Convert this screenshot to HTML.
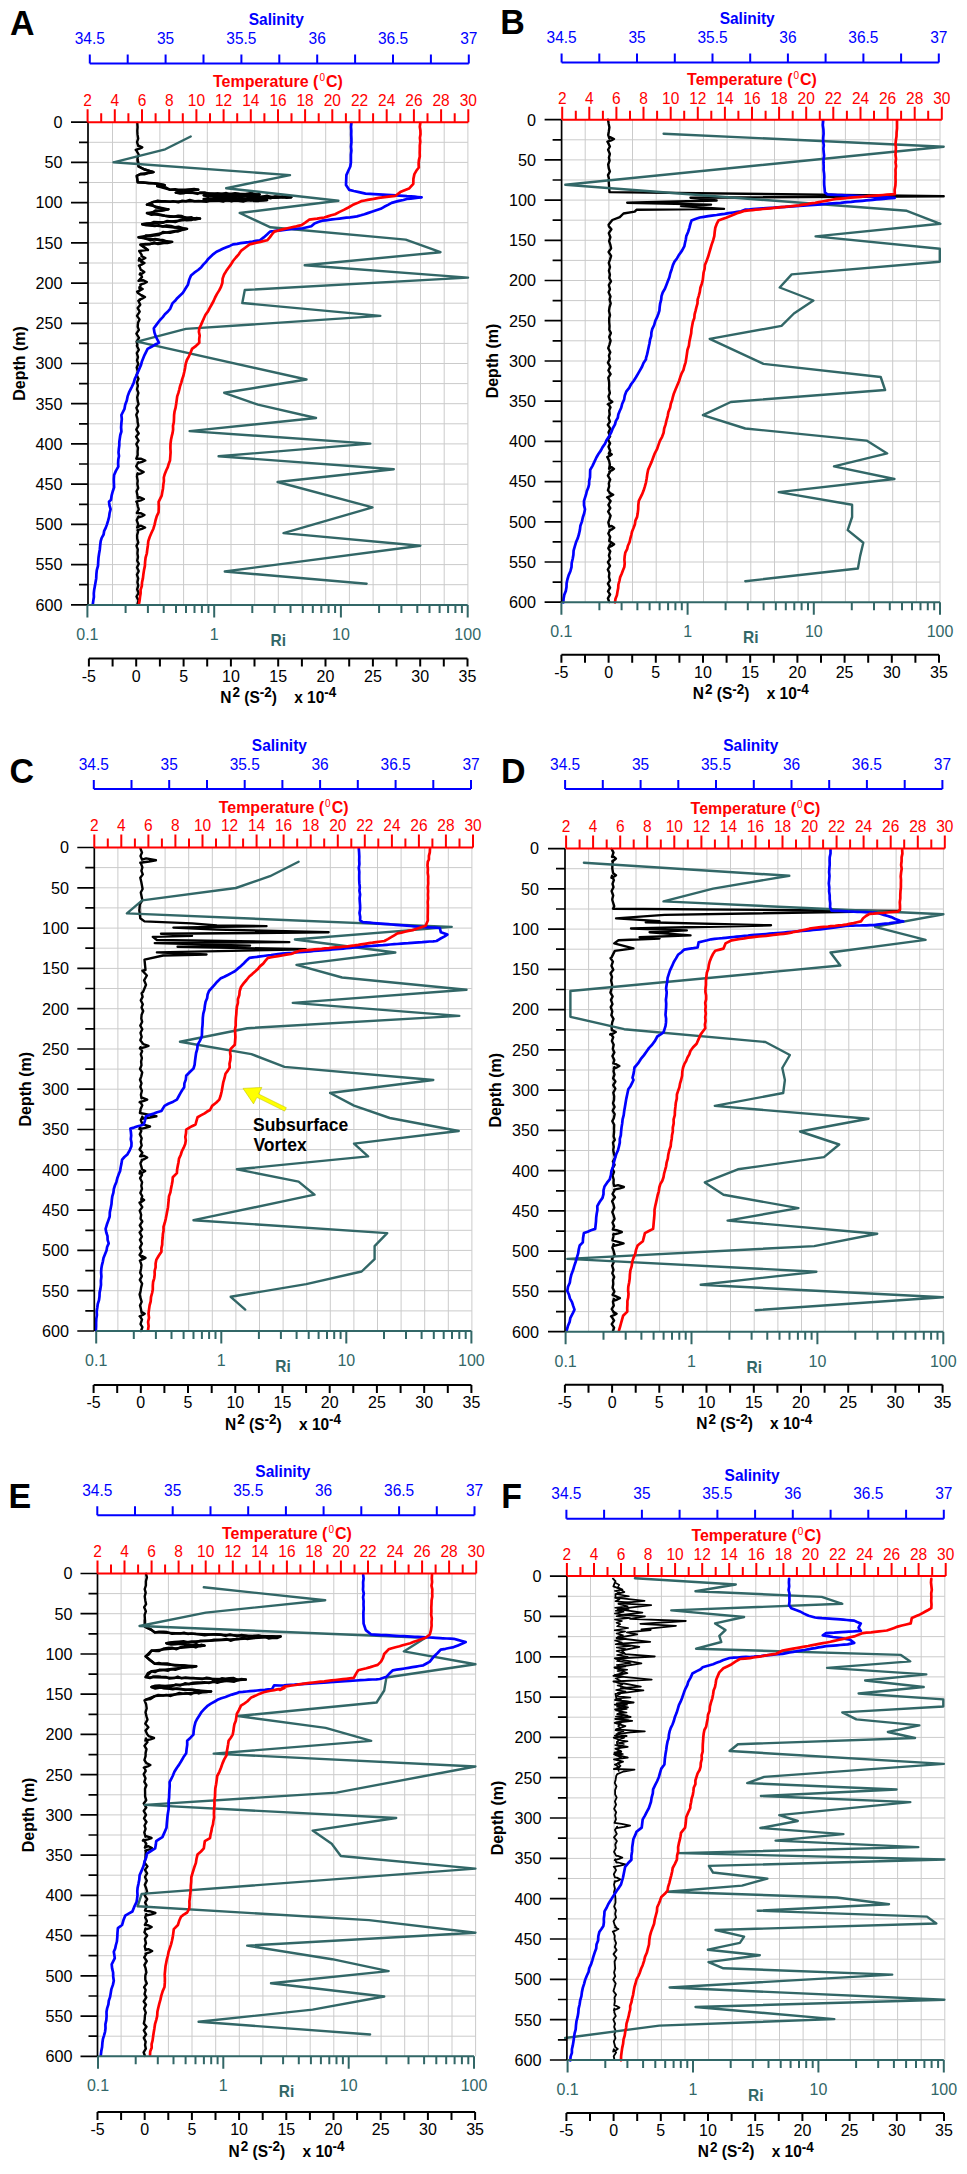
<!DOCTYPE html>
<html><head><meta charset="utf-8"><style>
html,body{margin:0;padding:0;background:#fff;overflow:hidden;}
svg{display:block;font-family:"Liberation Sans", sans-serif;}
</style></head><body>
<svg width="967" height="2174" viewBox="0 0 967 2174">
<rect width="967" height="2174" fill="#fff"/>
<path d="M112.5 122.2V604.8M136.2 122.2V604.8M159.9 122.2V604.8M183.6 122.2V604.8M207.3 122.2V604.8M231 122.2V604.8M254.7 122.2V604.8M278.3 122.2V604.8M302 122.2V604.8M325.7 122.2V604.8M349.4 122.2V604.8M373.1 122.2V604.8M396.8 122.2V604.8M420.5 122.2V604.8M444.2 122.2V604.8M467.9 122.2V604.8M88.8 142.3H467.9M88.8 162.4H467.9M88.8 182.5H467.9M88.8 202.6H467.9M88.8 222.7H467.9M88.8 242.8H467.9M88.8 263H467.9M88.8 283.1H467.9M88.8 303.2H467.9M88.8 323.3H467.9M88.8 343.4H467.9M88.8 363.5H467.9M88.8 383.6H467.9M88.8 403.7H467.9M88.8 423.8H467.9M88.8 443.9H467.9M88.8 464H467.9M88.8 484.1H467.9M88.8 504.3H467.9M88.8 524.4H467.9M88.8 544.5H467.9M88.8 564.6H467.9M88.8 584.7H467.9" stroke="#cbcbcb" stroke-width="1" fill="none"/>
<polyline points="137.3,123 137.6,127.2 137.3,130.8 137.5,134.4 138.2,138.7 137,142.1 138.3,146 138.4,145.5 142.3,147.3 139.6,148.6 135.7,149.9 136.3,150.4 138.7,154.5 137.5,158 137.7,160 138.6,166.5 144.2,169.3 153.5,172.1 140.5,174 136.8,175.8 137.7,182.3 153.5,183.3 164.7,185.1 157.2,186.1 170.3,189.8 198.2,189.8 175.8,192.6 259.6,194.4 203.8,195.4 291.3,197.2 203.8,199.1 267.1,200 153.5,201.9 147,204.7 168.4,209.3 147,213.1 164.7,215.8 200,218.6 142.3,224.2 187,228.9 138.6,237.3 172.1,241.9 140.5,244.7 147.9,249.9 139.2,251 141.7,254.9 141.5,256.2 145.4,258 142.7,259.3 138.8,260.6 139.4,258.1 141.5,262.1 141.3,261.2 144.5,263 142.3,264.3 138.9,265.6 139.5,266.2 140.8,269.9 141.7,270.2 144.3,272 142.5,273.3 139.7,274.6 140.3,273.3 142,277.1 138.5,280.8 143,280.2 146.9,282 144.2,283.3 140.3,284.6 140.9,284.6 139.5,288.6 139.4,287.2 142.7,289 140.4,290.3 137.1,291.6 137.7,292.7 142,295.9 141.8,295.2 145,297 142.8,298.3 139.4,299.6 140,300 138.3,300.8 140.3,304.8 137.7,308.1 139.7,311.7 137,315.9 139.5,319.4 138,322.8 137.7,326.9 138.9,329.9 136.4,333.7 139,337.9 136.6,341.6 137.5,345 136.9,345.7 138.8,349.8 136.8,353.1 138,357.1 137,360.4 138.3,364.1 136.7,367.5 137.9,371.8 136.6,374.9 138.5,378.8 137,382.4 137.9,385.7 137,389.3 138.4,392.9 137.2,397.3 137.7,400.9 138.6,404.2 136.4,407.9 137.9,411.5 136.3,414.8 137.5,419 137.6,422.1 138.4,425.7 136.3,429.6 138.7,433.5 136.1,436.7 138.6,440.7 136.3,444.1 138,447.7 137.6,451.4 137.7,455 136.3,458.7 140.7,458.7 145.3,460.5 142.1,461.8 137.7,463.1 138.3,462.3 136.2,466.2 138.5,469.2 139.8,470.2 143.7,472 141,473.3 137.1,474.6 137.7,473.3 136.9,476.4 137.7,480.8 137.3,484 138.2,488.1 136.6,491.2 137.4,495.1 137.8,498.4 139.4,497.2 143.9,499 140.8,500.3 136.3,501.6 136.9,501.9 137.8,506.3 138.8,509.3 136.8,513 140.6,513.2 144.5,515 141.8,516.3 137.9,517.6 138.5,516.4 136.7,520.2 138.2,524.4 137.2,527.5 140.6,525.7 145.1,527.5 142,528.8 137.5,530.1 138.1,531.7 137.1,535.2 137.2,538.6 138.3,542.6 136.5,545.9 137.8,549.4 137.4,553.5 138,557 137.2,560.7 138.8,563.8 137,567.6 138.7,571.1 136.9,574.7 138.2,578.3 137.4,582.2 138.3,585.7 137.1,589.3 138.6,593 136.5,596.5 138.5,600.5 137.5,604" fill="none" stroke="#000" stroke-width="2.4" stroke-linejoin="round" stroke-linecap="round"/>
<polyline points="137.7,160 138.6,166.5 144.2,169.3 148.8,170.7 153.5,172.1 149,172.9 144.3,174.2 140.5,174 136.8,175.8 137.7,182.3 143.4,182.5 148.9,183.2 153.5,183.3 158.9,183.7 164.7,185.1 157.2,186.1 161,186.8 166,187.5 170.3,189.8 175.1,189.3 180.4,191 184,190.5 189.5,189.5 194.1,189.1 198.2,189.8 193.6,189.7 190,191.1 185.3,192.1 180,191.7 175.8,192.6 180.1,193.6 183.5,193.3 188.3,191.7 192.2,192.5 197.4,193.9 200.3,192.4 204.6,192.4 209.1,193.9 212.7,194.6 217.1,193.6 221.7,194.5 226.2,193 229.5,194.7 235.1,193.2 238,193.7 243.6,195.1 246.5,193.9 251.6,193 255.8,195 259.6,194.4 255.1,195 251.1,194 246.7,195.4 242.3,194.7 238.9,195.6 234.6,194.3 229.4,195.7 225.6,194.4 221.1,195.2 217.4,196.4 212.4,195.8 207.4,194.5 203.8,195.4 207.6,196.3 211.8,196 216.6,194.9 219.8,194.9 224.5,197.1 229.3,195.6 233.4,195.3 237.5,195.4 240.7,196.8 246,196 249.5,196.3 253.2,195.3 258.7,197.7 262.4,196.7 267,195.7 270.8,197.1 274.2,197.8 278.8,197.4 282.4,196.5 286.6,197.7 291.3,197.2 286.9,196.4 282.9,197.2 279.6,196.8 275.1,196.5 270.4,198.3 266.8,197.2 261.7,198.5 258.2,198.9 254.5,197.2 249.1,197.8 245.9,199.4 241.4,198.2 237.1,198.4 233.2,197.4 228.3,198.2 224.5,198.3 220.1,197.6 215.7,198.3 211.4,198.7 207.7,199 203.8,199.1 208.3,198.6 211.6,199.6 216.7,198.3 220.1,199 224.5,198.8 228.4,198.8 233.9,199.1 236.8,198.3 241.9,198.8 246.3,199.3 250.5,200.4 255,199.8 258.1,201.1 263.5,199.7 267.1,200 262.9,200.4 258.6,200.7 254.3,201.1 251.3,199.3 247.3,200.1 243.2,201.5 238.3,200.8 234.2,200.6 231.4,201.4 226.6,199.5 223.2,201.6 218.3,200.5 213.6,200.4 211.1,200.2 207,201.7 201.4,201.3 198.7,201 194.6,201.3 189.7,200 185.9,201.2 182.3,200.8 178.4,202.2 173.1,201.3 170.3,201.7 165,201.2 161.2,201.3 157.8,200.6 153.5,201.9 147,204.7 151.8,204.4 156,207.6 160.2,208.1 164.2,209.2 168.4,209.3 163.4,210.3 160.6,210.7 155.4,210.4 151.3,213.4 147,213.1 151.5,214.8 156.6,214.1 160.8,214.8 164.7,215.8 169.9,216.7 173.9,216.7 178.2,215.7 181.9,216 186.4,218.2 191.4,217.3 194.9,219.5 200,218.6 196.1,218.1 191.3,220 186.9,220.2 183,219.3 179.6,220.3 175.3,222.1 171.2,221.4 167.3,220.9 163.1,222.7 159.2,222.3 154,221.9 150.4,223.3 147.2,223.4 142.3,224.2 146.3,225.3 150.1,225.4 154.9,226 158.7,225.3 162.8,226.5 166.5,225.5 170.9,226 174.9,227.3 178.5,226.8 183.1,228.2 187,228.9 182.6,229.8 178.2,231.4 175.4,231.5 170.1,232.7 166.5,232.4 162.9,232 158.8,234.9 154,235.6 150.5,236 145.9,235.4 143.1,237.9 138.6,237.3 142.7,237.9 147.8,239.4 150.5,240.2 155.1,239 159.7,239.7 163,240.1 167.4,242 172.1,241.9 167.5,243.1 163.8,242.9 158,244 154.1,242.5 150.1,244.2 145.6,243.9 140.5,244.7 144.6,247.5 147.9,249.9" fill="none" stroke="#000" stroke-width="2.5" stroke-linejoin="round" stroke-linecap="round"/>
<polyline points="190.7,136.5 165.2,149.3 113.5,162.3 290,175.1 226.2,188.2 338.4,200.8 239.7,213 270.5,227.3 405.7,239.6 440.5,252.2 304.7,265.3 468,277.6 244.8,290 242.3,303 380.3,315.9 185.8,328.9 137.2,341.7 306.5,379.5 224.2,392.8 257.9,404.6 316,418 189.6,431.1 370.3,443.6 218.6,456.3 393.8,469.2 277.6,482 372.5,507.4 283.5,533.1 420.3,545.7 224.8,571.5 366.6,583.7" fill="none" stroke="#326767" stroke-width="2.4" stroke-linejoin="round" stroke-linecap="round"/>
<polyline points="351.4,123 351,126.9 351.3,130.8 351.2,134.8 351.4,138.7 351.4,142.6 351,146.6 351.4,150.6 350.9,154.6 350.9,158.5 350.9,162.5 350.3,166.5 348.3,170.8 346.4,175.1 346.2,180 346,184.9 349.3,189.9 353.8,191 359,192.1 365.5,193.6 370.1,193.9 373.8,194.1 378.4,194.4 382.9,194.7 386.9,194.9 391.8,195.1 395.9,195.3 399.5,195.6 403.2,195.9 406.9,196.2 410.9,196.4 414.7,196.7 417.8,197 421.6,197.3 418.2,197.7 414.4,198.2 410.7,198.6 406.8,199 403.4,200 398.9,200.9 395.2,201.9 391.6,202.9 388,204.9 384.2,206.8 380.7,208.8 376.2,210.2 371.8,211.7 367.7,213.1 364.5,214.2 360.9,215.3 356.9,216.4 353.8,216.8 350.2,217.3 346.4,217.7 342.8,218.2 339.5,218.6 335.9,219 332.1,219.4 328.7,219.9 325.6,220.3 322.1,220.7 318.2,222.1 314.5,223.4 311.3,226.2 307.1,227.2 302.6,228.3 299,228.5 295,228.8 291.7,229 288.4,229.4 284.4,229.9 280.8,230.3 277.1,230.7 273.5,231.2 270,231.6 267,234.5 263.7,237.4 259.9,240.3 255.8,240.9 252.6,241.5 248.7,242.1 244.8,242.6 240.5,243.2 237.2,243.8 233,244.4 229.8,245.9 226.4,247.3 222.7,248.8 219.8,250.2 216.5,251.7 213.4,254.1 210.8,256.5 208.2,258.9 206.2,261.7 203.5,264.4 201.3,267.2 198.1,270 194.3,272.7 191,275.5 189.1,280.1 187.9,284.8 185.2,289 182.7,293.1 179.8,295.7 177.2,298.2 175.1,300.8 172.4,303.4 170.3,308.6 167.9,311.5 164.9,314.3 162.8,317.1 160,320 156.9,324.1 153.8,328.3 154.4,332.4 155.8,336.5 158.9,342.7 154.8,344.8 151.5,346.8 147.6,348.9 144.5,355.1 142,361.2 141.1,364.6 139.7,367.9 138.3,371.2 136.9,374.6 134.8,378.8 133.7,382.9 131.7,387.1 129.3,391.8 127.6,396.4 126.8,400.5 125.2,404.7 124.5,408.8 121.4,415 121.8,419.1 121.4,423.2 121.1,427.4 121.4,431.5 120.3,435 119.8,438.4 119.3,441.9 119.3,445.4 118.8,449 118.5,452.5 119,456.1 118.3,459.6 118.1,463.2 118.3,466.7 115.9,470.9 114.1,475 113.8,479.1 113.9,483.3 114.1,487.4 112.7,491.5 111.6,495.7 111,499.8 109,501.8 109.5,505.5 110.6,509.1 109.6,513 109.1,516.9 108.1,520.7 106.9,524.6 105.7,527.9 104.1,531.2 103.6,534.5 101.7,537.8 100.7,541.1 100.2,545.2 99.8,549.4 99.1,553.5 98.5,557.7 98.2,561.8 98,565.9 96.8,570.1 96.4,574.2 96.2,578.4 95.5,582.5 94.9,586.1 94.2,589.7 93.8,593.4 93.9,597 93.3,600.6 92.8,604.2" fill="none" stroke="#0000ff" stroke-width="2.7" stroke-linejoin="round" stroke-linecap="round"/>
<polyline points="420.3,123 419.8,126.7 420.4,130.5 420.5,134.2 419.9,137.9 420.3,141.6 419.8,145.4 419.8,149.1 419.7,152.8 419.8,156.5 418.9,160.1 418.6,163.8 418.8,167.5 416.3,170.8 414.4,174.1 413.4,178.9 413.3,183.8 409,188.6 404.6,190.3 400.3,192.1 395.5,195.8 390.9,196.3 386.7,196.9 382.7,197.4 378.6,197.9 375,198.6 372,199.2 367.7,199.9 364.8,200.5 361.2,201.2 357.2,203.1 352.5,205.1 348.4,207.5 343.8,209.9 339.1,212.1 335.1,214.2 331.2,215.3 327.8,216.4 324.3,217.5 320.1,218.1 317.1,218.6 313.1,219.1 309.1,219.7 305.6,222.4 301.5,225.1 298.1,225.9 294.9,226.7 290.8,227.5 287.4,228.3 282.6,229.4 278.5,230.5 274.3,231.6 271.9,234.5 269.8,237.4 267.2,240.3 263.2,241.1 260.5,241.9 256.5,242.8 252.7,243.6 249.6,244.4 245.5,247.5 241.3,250.6 238.9,254.1 235.9,257.5 233,261 231,264.4 228.5,267.8 226.2,271.1 224.1,274.5 222.6,278.6 222.4,282.8 221,286.9 219.2,290.4 217,293.9 215.1,297.5 213.6,301 211.7,304.5 209.8,307.9 208,311.4 205.5,314.8 203.9,318.2 202.4,321.6 201,324.9 199.3,328.3 198.9,331.9 199.7,335.5 199.2,339.1 199.3,342.7 196.1,345.8 192,348.9 190.6,352.6 188.9,356.3 186.9,360 185.7,363.9 185.1,367.9 184.3,371.8 183.4,375.7 182.2,379.1 181.3,382.6 180.1,386 179.3,389.5 178.4,392.9 177.2,396.4 176.7,400.1 176.2,403.8 175.6,407.6 174.6,411.3 174.1,415 174,418.6 173.8,422.2 173,425.9 173.1,429.5 172.6,432.9 171.7,436.4 171,439.8 170.5,443.9 170.4,448.1 170.6,452.2 170.3,456.4 170,460.5 168.7,463.9 167.8,467.2 166.2,470.5 164.8,473.9 163.8,477.5 163.9,481.1 163.3,484.8 163,488.4 162.3,492 161.7,495.6 158.6,501.8 158.8,507 158.6,512.2 156.7,516.4 155.5,520.5 154.6,524.6 153.4,528.7 151.5,532.8 149.7,537 148.3,541.1 147.9,545.2 147.3,549.4 146.8,553.5 145.6,557.7 145.1,561.8 144.9,565.9 144,570.1 143.4,574.2 142.9,578.4 142,582.5 141.8,586.1 140.6,589.7 140.6,593.4 140,597 139.6,600.6 138.9,604.2" fill="none" stroke="#ff0000" stroke-width="2.7" stroke-linejoin="round" stroke-linecap="round"/>
<path d="M88 122.2V604.8M71 122.2H88M79 142.3H88M71 162.4H88M79 182.5H88M71 202.6H88M79 222.7H88M71 242.8H88M79 263H88M71 283.1H88M79 303.2H88M71 323.3H88M79 343.4H88M71 363.5H88M79 383.6H88M71 403.7H88M79 423.8H88M71 443.9H88M79 464H88M71 484.1H88M79 504.3H88M71 524.4H88M79 544.5H88M71 564.6H88M79 584.7H88M71 604.8H88" stroke="#000" stroke-width="1.7" fill="none"/>
<text transform="translate(62.5 128) scale(1 1.05)" font-size="16.2" fill="#000" text-anchor="end" font-weight="normal" >0</text>
<text transform="translate(62.5 168.2) scale(1 1.05)" font-size="16.2" fill="#000" text-anchor="end" font-weight="normal" >50</text>
<text transform="translate(62.5 208.4) scale(1 1.05)" font-size="16.2" fill="#000" text-anchor="end" font-weight="normal" >100</text>
<text transform="translate(62.5 248.7) scale(1 1.05)" font-size="16.2" fill="#000" text-anchor="end" font-weight="normal" >150</text>
<text transform="translate(62.5 288.9) scale(1 1.05)" font-size="16.2" fill="#000" text-anchor="end" font-weight="normal" >200</text>
<text transform="translate(62.5 329.1) scale(1 1.05)" font-size="16.2" fill="#000" text-anchor="end" font-weight="normal" >250</text>
<text transform="translate(62.5 369.3) scale(1 1.05)" font-size="16.2" fill="#000" text-anchor="end" font-weight="normal" >300</text>
<text transform="translate(62.5 409.5) scale(1 1.05)" font-size="16.2" fill="#000" text-anchor="end" font-weight="normal" >350</text>
<text transform="translate(62.5 449.7) scale(1 1.05)" font-size="16.2" fill="#000" text-anchor="end" font-weight="normal" >400</text>
<text transform="translate(62.5 489.9) scale(1 1.05)" font-size="16.2" fill="#000" text-anchor="end" font-weight="normal" >450</text>
<text transform="translate(62.5 530.2) scale(1 1.05)" font-size="16.2" fill="#000" text-anchor="end" font-weight="normal" >500</text>
<text transform="translate(62.5 570.4) scale(1 1.05)" font-size="16.2" fill="#000" text-anchor="end" font-weight="normal" >550</text>
<text transform="translate(62.5 610.6) scale(1 1.05)" font-size="16.2" fill="#000" text-anchor="end" font-weight="normal" >600</text>
<text x="25.1" y="363.5" font-size="16" font-weight="bold" text-anchor="middle" transform="rotate(-90 25.1 363.5)">Depth (m)</text>
<path d="M89.8 63.5H468.8M89.8 63.5V54.5M127.7 63.5V54.5M165.6 63.5V54.5M203.5 63.5V54.5M241.4 63.5V54.5M279.3 63.5V54.5M317.2 63.5V54.5M355.1 63.5V54.5M393 63.5V54.5M430.9 63.5V54.5M468.8 63.5V54.5" stroke="#0000ff" stroke-width="2" fill="none"/>
<text transform="translate(89.8 44) scale(1 1.1)" font-size="15.5" fill="#0000ff" text-anchor="middle" font-weight="normal" >34.5</text>
<text transform="translate(165.6 44) scale(1 1.1)" font-size="15.5" fill="#0000ff" text-anchor="middle" font-weight="normal" >35</text>
<text transform="translate(241.4 44) scale(1 1.1)" font-size="15.5" fill="#0000ff" text-anchor="middle" font-weight="normal" >35.5</text>
<text transform="translate(317.2 44) scale(1 1.1)" font-size="15.5" fill="#0000ff" text-anchor="middle" font-weight="normal" >36</text>
<text transform="translate(393 44) scale(1 1.1)" font-size="15.5" fill="#0000ff" text-anchor="middle" font-weight="normal" >36.5</text>
<text transform="translate(468.8 44) scale(1 1.1)" font-size="15.5" fill="#0000ff" text-anchor="middle" font-weight="normal" >37</text>
<text transform="translate(276.3 25.3) scale(1 1.05)" font-size="15.5" fill="#0000ff" text-anchor="middle" font-weight="bold" >Salinity</text>
<path d="M87.6 122.2H468.3M87.6 122.2V109.2M101.2 122.2V113.2M114.8 122.2V109.2M128.4 122.2V113.2M142 122.2V109.2M155.6 122.2V113.2M169.2 122.2V109.2M182.8 122.2V113.2M196.4 122.2V109.2M210 122.2V113.2M223.6 122.2V109.2M237.2 122.2V113.2M250.8 122.2V109.2M264.4 122.2V113.2M278 122.2V109.2M291.5 122.2V113.2M305.1 122.2V109.2M318.7 122.2V113.2M332.3 122.2V109.2M345.9 122.2V113.2M359.5 122.2V109.2M373.1 122.2V113.2M386.7 122.2V109.2M400.3 122.2V113.2M413.9 122.2V109.2M427.5 122.2V113.2M441.1 122.2V109.2M454.7 122.2V113.2M468.3 122.2V109.2" stroke="#ff0000" stroke-width="2" fill="none"/>
<text transform="translate(87.6 106) scale(1 1.08)" font-size="15.5" fill="#ff0000" text-anchor="middle" font-weight="normal" >2</text>
<text transform="translate(114.8 106) scale(1 1.08)" font-size="15.5" fill="#ff0000" text-anchor="middle" font-weight="normal" >4</text>
<text transform="translate(142 106) scale(1 1.08)" font-size="15.5" fill="#ff0000" text-anchor="middle" font-weight="normal" >6</text>
<text transform="translate(169.2 106) scale(1 1.08)" font-size="15.5" fill="#ff0000" text-anchor="middle" font-weight="normal" >8</text>
<text transform="translate(196.4 106) scale(1 1.08)" font-size="15.5" fill="#ff0000" text-anchor="middle" font-weight="normal" >10</text>
<text transform="translate(223.6 106) scale(1 1.08)" font-size="15.5" fill="#ff0000" text-anchor="middle" font-weight="normal" >12</text>
<text transform="translate(250.8 106) scale(1 1.08)" font-size="15.5" fill="#ff0000" text-anchor="middle" font-weight="normal" >14</text>
<text transform="translate(278 106) scale(1 1.08)" font-size="15.5" fill="#ff0000" text-anchor="middle" font-weight="normal" >16</text>
<text transform="translate(305.1 106) scale(1 1.08)" font-size="15.5" fill="#ff0000" text-anchor="middle" font-weight="normal" >18</text>
<text transform="translate(332.3 106) scale(1 1.08)" font-size="15.5" fill="#ff0000" text-anchor="middle" font-weight="normal" >20</text>
<text transform="translate(359.5 106) scale(1 1.08)" font-size="15.5" fill="#ff0000" text-anchor="middle" font-weight="normal" >22</text>
<text transform="translate(386.7 106) scale(1 1.08)" font-size="15.5" fill="#ff0000" text-anchor="middle" font-weight="normal" >24</text>
<text transform="translate(413.9 106) scale(1 1.08)" font-size="15.5" fill="#ff0000" text-anchor="middle" font-weight="normal" >26</text>
<text transform="translate(441.1 106) scale(1 1.08)" font-size="15.5" fill="#ff0000" text-anchor="middle" font-weight="normal" >28</text>
<text transform="translate(468.3 106) scale(1 1.08)" font-size="15.5" fill="#ff0000" text-anchor="middle" font-weight="normal" >30</text>
<text transform="translate(277.9 87.2) scale(1 1.05)" font-size="16" fill="#ff0000" text-anchor="middle" font-weight="bold" >Temperature (<tspan font-weight="normal" font-size="10" dx="1" dy="-5.5">0</tspan><tspan dx="1" dy="5.5">C)</tspan></text>
<path d="M87.4 605H467.7M87.4 605V617.5M125.6 605V613M147.9 605V613M163.7 605V613M176 605V613M186 605V613M194.5 605V613M201.9 605V613M208.4 605V613M214.2 605V617.5M252.3 605V613M274.6 605V613M290.5 605V613M302.8 605V613M312.8 605V613M321.3 605V613M328.6 605V613M335.1 605V613M340.9 605V617.5M379.1 605V613M401.4 605V613M417.3 605V613M429.5 605V613M439.6 605V613M448.1 605V613M455.4 605V613M461.9 605V613M467.7 605V617.5" stroke="#326767" stroke-width="2" fill="none"/>
<text transform="translate(87.4 640) scale(1 1.05)" font-size="16" fill="#326767" text-anchor="middle" font-weight="normal" >0.1</text>
<text transform="translate(214.2 640) scale(1 1.05)" font-size="16" fill="#326767" text-anchor="middle" font-weight="normal" >1</text>
<text transform="translate(340.9 640) scale(1 1.05)" font-size="16" fill="#326767" text-anchor="middle" font-weight="normal" >10</text>
<text transform="translate(467.7 640) scale(1 1.05)" font-size="16" fill="#326767" text-anchor="middle" font-weight="normal" >100</text>
<text transform="translate(278.3 646) scale(1 1.05)" font-size="15.5" fill="#326767" text-anchor="middle" font-weight="bold" >Ri</text>
<path d="M88.9 658.5H467.5M88.9 658.5V666.5M112.6 658.5V666.5M136.2 658.5V666.5M159.9 658.5V666.5M183.6 658.5V666.5M207.2 658.5V666.5M230.9 658.5V666.5M254.5 658.5V666.5M278.2 658.5V666.5M301.9 658.5V666.5M325.5 658.5V666.5M349.2 658.5V666.5M372.9 658.5V666.5M396.5 658.5V666.5M420.2 658.5V666.5M443.8 658.5V666.5M467.5 658.5V666.5" stroke="#000" stroke-width="2" fill="none"/>
<text transform="translate(88.9 681.8) scale(1 1.05)" font-size="16" fill="#000" text-anchor="middle" font-weight="normal" >-5</text>
<text transform="translate(136.2 681.8) scale(1 1.05)" font-size="16" fill="#000" text-anchor="middle" font-weight="normal" >0</text>
<text transform="translate(183.6 681.8) scale(1 1.05)" font-size="16" fill="#000" text-anchor="middle" font-weight="normal" >5</text>
<text transform="translate(230.9 681.8) scale(1 1.05)" font-size="16" fill="#000" text-anchor="middle" font-weight="normal" >10</text>
<text transform="translate(278.2 681.8) scale(1 1.05)" font-size="16" fill="#000" text-anchor="middle" font-weight="normal" >15</text>
<text transform="translate(325.5 681.8) scale(1 1.05)" font-size="16" fill="#000" text-anchor="middle" font-weight="normal" >20</text>
<text transform="translate(372.9 681.8) scale(1 1.05)" font-size="16" fill="#000" text-anchor="middle" font-weight="normal" >25</text>
<text transform="translate(420.2 681.8) scale(1 1.05)" font-size="16" fill="#000" text-anchor="middle" font-weight="normal" >30</text>
<text transform="translate(467.5 681.8) scale(1 1.05)" font-size="16" fill="#000" text-anchor="middle" font-weight="normal" >35</text>
<text transform="translate(278.3 703) scale(1 1.05)" font-size="15.5" font-weight="bold" text-anchor="middle" xml:space="preserve">N<tspan dy="-5.5" dx="1" font-size="13.5">2</tspan><tspan dy="5.5"> (S</tspan><tspan dy="-5.5" font-size="13.5">-2</tspan><tspan dy="5.5">)    x 10</tspan><tspan dy="-5.5" font-size="13.5">-4</tspan></text>
<text transform="translate(9.9 34.7) scale(1 1.04)" font-size="34" fill="#000" text-anchor="start" font-weight="bold" >A</text>
<path d="M585.2 119.7V602.2M608.9 119.7V602.2M632.5 119.7V602.2M656.2 119.7V602.2M679.9 119.7V602.2M703.5 119.7V602.2M727.1 119.7V602.2M750.8 119.7V602.2M774.5 119.7V602.2M798.1 119.7V602.2M821.8 119.7V602.2M845.4 119.7V602.2M869 119.7V602.2M892.7 119.7V602.2M916.4 119.7V602.2M940 119.7V602.2M561.6 139.8H940M561.6 159.9H940M561.6 180H940M561.6 200.1H940M561.6 220.2H940M561.6 240.3H940M561.6 260.4H940M561.6 280.5H940M561.6 300.6H940M561.6 320.7H940M561.6 340.8H940M561.6 361H940M561.6 381.1H940M561.6 401.2H940M561.6 421.3H940M561.6 441.4H940M561.6 461.5H940M561.6 481.6H940M561.6 501.7H940M561.6 521.8H940M561.6 541.9H940M561.6 562H940M561.6 582.1H940" stroke="#cbcbcb" stroke-width="1" fill="none"/>
<polyline points="608,119.7 608.7,123.9 609.4,127.3 608.8,131.5 608.2,135 609.3,138.4 610.1,137.2 614,139 611.3,140.3 607.4,141.6 608,142.6 609.9,146.5 608.1,149.8 609.9,154 608.9,157.6 609.6,160.5 608.2,164.5 608.8,168.5 609.9,171.5 608,175.1 609,179 608.6,180 609.5,192.1 943.7,196.3 690.5,197.7 716.6,200.5 627.2,202.7 711,204.6 681.2,206.1 724,208.9 636.5,209.8 634.7,211.6 623.5,213.5 619.8,217.2 612.3,220 608.6,224.7 608.9,226.4 611.4,229.3 608.8,233.1 610.4,237.2 609.1,241.1 610.4,244.9 611.1,248.3 608.6,252 611.1,255.8 610,259.6 608.8,262.8 610,267 608.9,270.8 609.9,274.5 609.3,278 611,281.3 608.8,285 610,289.3 608.6,292.3 610.5,296.4 609.6,299.6 610.7,303.3 609.5,307.4 609,311 610,315.1 609.2,318.4 609.2,322.1 609.6,326 609.3,329.8 610.9,333 609.2,336.9 610.6,340.7 609.4,344.8 608.2,348.1 610.3,352.2 608.9,355.6 609.7,359.1 607.9,362.7 610.2,366.7 608.4,370.5 610.6,374.2 608.3,377.7 609.1,381.8 609.2,385.5 609,388.9 609.9,393 608.5,396.3 609.6,400.1 609.7,399.9 612.3,401.7 610.5,403 607.7,404.3 608.3,403.8 610.5,407.3 609.2,410.4 609.7,414.5 608.6,417.8 609.9,421.6 607.8,424.9 610.3,428.7 608.5,432.2 610.1,436.4 608,439.5 610.1,443.3 608.5,446.8 610.2,450.8 608.8,453.7 609.2,452.6 611.8,454.4 610,455.7 607.2,457 607.8,458 609.2,461.1 609.9,464.8 609.1,468.7 611.4,467.1 614,468.9 612.2,470.2 609.4,471.5 610,471.9 607.9,475.6 610.2,479.5 608.8,483.3 609.2,486.2 607.9,490.3 610.6,493.8 609.7,492.9 613.2,494.7 610.8,496 607.1,497.3 607.7,497.6 610.6,501.1 608.4,504.9 610.3,508.2 608.1,511.7 610.6,515.7 609.6,518.9 608.3,522.4 609.4,526.6 611.6,526 614.2,527.8 612.4,529.1 609.6,530.4 610.2,529.7 608.3,533.5 610.2,536.9 609.2,540.9 611.5,542.5 614.1,544.3 612.3,545.6 609.5,546.9 610.1,544.4 608.3,548.3 610.3,551.4 608.9,555.3 610.1,558.8 607.9,562.1 610,565.8 607.8,569.5 609.4,572.9 608.9,577 610,580.4 607.9,583.6 610.1,587.7 608,591.4 610.1,594.4 607.9,598.4 609.2,602" fill="none" stroke="#000" stroke-width="2.4" stroke-linejoin="round" stroke-linecap="round"/>
<polyline points="663.6,133.7 943.7,146.7 565.3,184.8 906.8,210.8 940.4,223.8 815.6,236.4 939.8,248.8 939.8,261.8 791.7,274.4 779.7,287.5 813.4,300.5 793.9,313.5 781.5,325.9 709.7,338.9 763.5,363.9 880.7,377 885.1,390 730.8,402 702.9,415.1 745.3,428.5 866.6,440.6 887.2,453.4 834,466.4 894.4,479 778.7,492.1 852.1,504.7 852.1,517 847.7,530.1 863.3,542.7 860.1,556.1 857.9,568.5 745.3,581.2" fill="none" stroke="#326767" stroke-width="2.4" stroke-linejoin="round" stroke-linecap="round"/>
<polyline points="823.2,120.7 822.8,125 823.4,129.4 823.6,133.7 823.2,138.1 823.2,141.6 823.8,145.2 823.4,148.7 823.7,152.3 824.1,155.8 823.5,159.4 823.5,162.9 823.7,166.5 823.6,170 824.1,173.6 824.3,177.1 824.1,181 824.2,184.8 824.6,188.6 824.9,192.4 827.5,194.5 831,194.7 835,194.9 837.7,195 841.8,195.2 845.6,195.4 849,195.6 852,195.7 855.6,195.9 859.3,196.1 862.5,196.2 866.9,196.4 870.3,196.6 873.9,196.8 877.3,196.9 881.1,197.1 884.1,197.3 887.3,197.4 891.2,197.6 894.8,197.8 891.2,198.1 887.9,198.4 883.5,198.8 880.7,199.1 876.6,199.4 872.7,199.8 869.6,200.1 866.2,200.4 862.4,200.8 858.9,201.1 855,201.4 851.3,201.8 847.4,202.1 844.5,202.4 840.6,202.8 836.7,203.1 832.4,203.4 828.5,203.7 825,204 821,204.3 817.6,204.6 814.2,204.8 810.1,205.1 806.6,205.3 803.1,205.6 798.9,205.8 796.1,206.1 791.9,206.4 788.9,206.6 785.2,206.9 781.5,207.1 777.3,207.4 773.9,207.7 770.3,207.9 766.5,208.2 763.1,208.4 759.3,208.7 755.9,208.9 752.4,209.2 748.8,209.5 745,209.7 741.1,211.3 737.3,211.9 733.1,212.5 728.6,213.1 724.7,213.8 720.5,214.4 716.6,215 711.8,215.6 708.2,216.2 703.9,216.9 699.8,217.5 695.3,219 691.5,220.6 690.3,224.2 689.4,227.8 688.1,232 686.3,236.1 685.8,239.5 685,243 684.3,246.4 682,250.6 679.1,254.7 677.1,258.2 674.5,261.6 672.9,265.1 671.7,269.2 670.3,273.3 669.3,277.5 667.7,281.6 666.3,285.2 664.9,288.8 662.7,292.5 661.5,296.1 661.2,299.7 660.2,303.3 659.7,306.9 659.4,310.6 658.3,314 657,317.4 655.3,320.9 654.2,325 652.2,329.2 651.4,332.6 651.2,336.1 650.1,339.5 649.5,343.2 648.7,347 647.9,350.7 647.1,354.4 646,358.1 646,359.2 643.5,363 642,366.8 639.8,370.6 637.8,374.1 635.8,377.5 633.6,381 631,384.4 629.2,387.8 626.4,391.3 624.8,395.4 624.1,399.6 622.2,403.7 621.2,407.8 619.6,411.2 618.3,414.5 617.8,417.8 615.8,421.1 615,424.4 612.7,428.5 611.1,432.7 608.8,436.8 606.5,440.2 605,443.7 602.6,447.1 600.8,450.6 598.4,454 596.4,457.5 594.5,461.6 592.5,465.8 590.2,469.9 590.1,473.5 590,477.1 589.2,480.7 589.1,484.4 588.2,487.8 586.8,491.3 586,494.7 584,500.9 584,505.1 585,509.2 584.2,513.3 582.8,517.5 581.9,521.6 580.4,525.7 579.9,529.9 579,534 577.8,538.1 576,542.3 574.8,546.4 573.6,550.6 573.4,554.7 572.7,558.8 571.7,563 571.5,567.1 570.4,571.2 568.6,575.4 567.4,579.5 566.6,583.3 566.5,587.1 565.8,590.9 564.3,594.7 563.6,598.5 563.3,602.3" fill="none" stroke="#0000ff" stroke-width="2.7" stroke-linejoin="round" stroke-linecap="round"/>
<polyline points="897,120.7 897,124.6 897,128.5 896.6,132.4 896.5,136.3 895.9,140.2 895.5,143.9 895.9,147.6 895.7,151.3 895.5,155 896,158.7 895.5,162.4 896.1,166.1 895.5,169.8 895.6,173.5 895.5,177.1 895.6,181.4 895.4,185.6 894.6,189.9 894.8,194.1 891.1,194.4 886.7,194.7 883,195 878.8,195.3 875.3,195.6 871.8,195.9 867.9,196.2 864.4,196.5 861.1,196.8 857.5,197.1 854,197.4 850.4,197.7 847.1,198 843.7,198.3 840.2,198.6 836.2,198.9 832.8,199.5 829.4,200.2 825.9,200.8 822.2,201.5 818.8,202.1 815.2,202.8 810.7,203.4 807.5,204.1 803.2,204.7 799.3,205.4 795.9,205.7 792.2,206.1 788.1,206.5 784.7,206.8 781.1,207.2 777.2,207.6 774.2,207.9 770.3,208.3 766.9,208.6 762.7,209 759.9,209.4 755.8,209.7 752.5,210.1 748.9,210.4 745,210.8 740.6,212.1 737,213.3 733.5,214.8 729.8,216.2 726.1,217.7 722.4,219.1 718.4,220.6 716.6,224.2 715.3,227.8 714.7,232 714.3,236.1 713.2,240.2 711.7,244.4 710.5,248.5 709.3,252.6 708.1,256.8 706.6,260.9 704.9,265.1 704.6,268.8 703.6,272.5 703.2,276.2 702.8,279.9 701.8,283.7 700.4,287.8 699.8,291.9 698.7,296.1 697.6,299.7 697.5,303.3 696.5,306.9 695.6,310.6 694.6,314.3 694.3,318 692.9,321.7 692.2,325.4 691.5,329.2 691.2,333.3 690.3,337.4 689.4,341.6 688.9,345.7 687.5,349.8 686.9,354 686.3,358.1 685.6,362.3 684.3,366.5 683.4,370.1 681.5,373.7 680.2,377.3 679.1,381 677.4,385.1 675.6,389.2 673.9,393.4 672.9,396.8 672.1,400.3 670.8,403.7 670.1,407.8 668.4,412 667.7,416.1 666.5,420.3 665.6,424.4 664.2,428.5 663.6,432.7 662.1,436.8 659.9,440.9 658.4,445.1 657,449.2 654.8,453.3 653.2,457.5 651.7,461.6 649.9,465.8 648.1,469.9 647.3,474 646.7,478.2 646,482.3 644.9,486.4 643.6,490.6 641.9,494.7 638.8,500.9 638.3,505.1 638.2,509.2 637.7,513.3 637.1,516.9 635.4,520.6 634.9,524.2 633.6,527.8 632.1,531.4 631.3,535 630.3,538.7 629.5,542.3 627.9,545.7 627.1,549.2 625.3,552.6 624.7,556.2 624.4,559.9 624.7,563.5 624.3,567.1 622.9,570.5 621.6,574 620.1,577.4 619.4,581 618.4,584.5 618.2,588.1 617.5,591.6 616.9,595.2 615.5,598.7 615,602.3" fill="none" stroke="#ff0000" stroke-width="2.7" stroke-linejoin="round" stroke-linecap="round"/>
<path d="M561.6 119.7V602.2M544.6 119.7H561.6M552.6 139.8H561.6M544.6 159.9H561.6M552.6 180H561.6M544.6 200.1H561.6M552.6 220.2H561.6M544.6 240.3H561.6M552.6 260.4H561.6M544.6 280.5H561.6M552.6 300.6H561.6M544.6 320.7H561.6M552.6 340.8H561.6M544.6 361H561.6M552.6 381.1H561.6M544.6 401.2H561.6M552.6 421.3H561.6M544.6 441.4H561.6M552.6 461.5H561.6M544.6 481.6H561.6M552.6 501.7H561.6M544.6 521.8H561.6M552.6 541.9H561.6M544.6 562H561.6M552.6 582.1H561.6M544.6 602.2H561.6" stroke="#000" stroke-width="1.7" fill="none"/>
<text transform="translate(536 125.5) scale(1 1.05)" font-size="16.2" fill="#000" text-anchor="end" font-weight="normal" >0</text>
<text transform="translate(536 165.7) scale(1 1.05)" font-size="16.2" fill="#000" text-anchor="end" font-weight="normal" >50</text>
<text transform="translate(536 205.9) scale(1 1.05)" font-size="16.2" fill="#000" text-anchor="end" font-weight="normal" >100</text>
<text transform="translate(536 246.1) scale(1 1.05)" font-size="16.2" fill="#000" text-anchor="end" font-weight="normal" >150</text>
<text transform="translate(536 286.3) scale(1 1.05)" font-size="16.2" fill="#000" text-anchor="end" font-weight="normal" >200</text>
<text transform="translate(536 326.5) scale(1 1.05)" font-size="16.2" fill="#000" text-anchor="end" font-weight="normal" >250</text>
<text transform="translate(536 366.8) scale(1 1.05)" font-size="16.2" fill="#000" text-anchor="end" font-weight="normal" >300</text>
<text transform="translate(536 407) scale(1 1.05)" font-size="16.2" fill="#000" text-anchor="end" font-weight="normal" >350</text>
<text transform="translate(536 447.2) scale(1 1.05)" font-size="16.2" fill="#000" text-anchor="end" font-weight="normal" >400</text>
<text transform="translate(536 487.4) scale(1 1.05)" font-size="16.2" fill="#000" text-anchor="end" font-weight="normal" >450</text>
<text transform="translate(536 527.6) scale(1 1.05)" font-size="16.2" fill="#000" text-anchor="end" font-weight="normal" >500</text>
<text transform="translate(536 567.8) scale(1 1.05)" font-size="16.2" fill="#000" text-anchor="end" font-weight="normal" >550</text>
<text transform="translate(536 608) scale(1 1.05)" font-size="16.2" fill="#000" text-anchor="end" font-weight="normal" >600</text>
<text x="497.9" y="361" font-size="16" font-weight="bold" text-anchor="middle" transform="rotate(-90 497.9 361)">Depth (m)</text>
<path d="M561.6 62.6H938.8M561.6 62.6V53.6M599.3 62.6V53.6M637 62.6V53.6M674.8 62.6V53.6M712.5 62.6V53.6M750.2 62.6V53.6M787.9 62.6V53.6M825.6 62.6V53.6M863.4 62.6V53.6M901.1 62.6V53.6M938.8 62.6V53.6" stroke="#0000ff" stroke-width="2" fill="none"/>
<text transform="translate(561.6 43.1) scale(1 1.1)" font-size="15.5" fill="#0000ff" text-anchor="middle" font-weight="normal" >34.5</text>
<text transform="translate(637 43.1) scale(1 1.1)" font-size="15.5" fill="#0000ff" text-anchor="middle" font-weight="normal" >35</text>
<text transform="translate(712.5 43.1) scale(1 1.1)" font-size="15.5" fill="#0000ff" text-anchor="middle" font-weight="normal" >35.5</text>
<text transform="translate(787.9 43.1) scale(1 1.1)" font-size="15.5" fill="#0000ff" text-anchor="middle" font-weight="normal" >36</text>
<text transform="translate(863.4 43.1) scale(1 1.1)" font-size="15.5" fill="#0000ff" text-anchor="middle" font-weight="normal" >36.5</text>
<text transform="translate(938.8 43.1) scale(1 1.1)" font-size="15.5" fill="#0000ff" text-anchor="middle" font-weight="normal" >37</text>
<text transform="translate(747.2 24.4) scale(1 1.05)" font-size="15.5" fill="#0000ff" text-anchor="middle" font-weight="bold" >Salinity</text>
<path d="M562.2 119.7H941.8M562.2 119.7V106.7M575.8 119.7V110.7M589.3 119.7V106.7M602.9 119.7V110.7M616.4 119.7V106.7M630 119.7V110.7M643.5 119.7V106.7M657.1 119.7V110.7M670.7 119.7V106.7M684.2 119.7V110.7M697.8 119.7V106.7M711.3 119.7V110.7M724.9 119.7V106.7M738.4 119.7V110.7M752 119.7V106.7M765.6 119.7V110.7M779.1 119.7V106.7M792.7 119.7V110.7M806.2 119.7V106.7M819.8 119.7V110.7M833.3 119.7V106.7M846.9 119.7V110.7M860.5 119.7V106.7M874 119.7V110.7M887.6 119.7V106.7M901.1 119.7V110.7M914.7 119.7V106.7M928.2 119.7V110.7M941.8 119.7V106.7" stroke="#ff0000" stroke-width="2" fill="none"/>
<text transform="translate(562.2 103.5) scale(1 1.08)" font-size="15.5" fill="#ff0000" text-anchor="middle" font-weight="normal" >2</text>
<text transform="translate(589.3 103.5) scale(1 1.08)" font-size="15.5" fill="#ff0000" text-anchor="middle" font-weight="normal" >4</text>
<text transform="translate(616.4 103.5) scale(1 1.08)" font-size="15.5" fill="#ff0000" text-anchor="middle" font-weight="normal" >6</text>
<text transform="translate(643.5 103.5) scale(1 1.08)" font-size="15.5" fill="#ff0000" text-anchor="middle" font-weight="normal" >8</text>
<text transform="translate(670.7 103.5) scale(1 1.08)" font-size="15.5" fill="#ff0000" text-anchor="middle" font-weight="normal" >10</text>
<text transform="translate(697.8 103.5) scale(1 1.08)" font-size="15.5" fill="#ff0000" text-anchor="middle" font-weight="normal" >12</text>
<text transform="translate(724.9 103.5) scale(1 1.08)" font-size="15.5" fill="#ff0000" text-anchor="middle" font-weight="normal" >14</text>
<text transform="translate(752 103.5) scale(1 1.08)" font-size="15.5" fill="#ff0000" text-anchor="middle" font-weight="normal" >16</text>
<text transform="translate(779.1 103.5) scale(1 1.08)" font-size="15.5" fill="#ff0000" text-anchor="middle" font-weight="normal" >18</text>
<text transform="translate(806.2 103.5) scale(1 1.08)" font-size="15.5" fill="#ff0000" text-anchor="middle" font-weight="normal" >20</text>
<text transform="translate(833.3 103.5) scale(1 1.08)" font-size="15.5" fill="#ff0000" text-anchor="middle" font-weight="normal" >22</text>
<text transform="translate(860.5 103.5) scale(1 1.08)" font-size="15.5" fill="#ff0000" text-anchor="middle" font-weight="normal" >24</text>
<text transform="translate(887.6 103.5) scale(1 1.08)" font-size="15.5" fill="#ff0000" text-anchor="middle" font-weight="normal" >26</text>
<text transform="translate(914.7 103.5) scale(1 1.08)" font-size="15.5" fill="#ff0000" text-anchor="middle" font-weight="normal" >28</text>
<text transform="translate(941.8 103.5) scale(1 1.08)" font-size="15.5" fill="#ff0000" text-anchor="middle" font-weight="normal" >30</text>
<text transform="translate(752 84.7) scale(1 1.05)" font-size="16" fill="#ff0000" text-anchor="middle" font-weight="bold" >Temperature (<tspan font-weight="normal" font-size="10" dx="1" dy="-5.5">0</tspan><tspan dx="1" dy="5.5">C)</tspan></text>
<path d="M561.4 602.2H940M561.4 602.2V614.7M599.4 602.2V610.2M621.6 602.2V610.2M637.4 602.2V610.2M649.6 602.2V610.2M659.6 602.2V610.2M668.1 602.2V610.2M675.4 602.2V610.2M681.8 602.2V610.2M687.6 602.2V614.7M725.6 602.2V610.2M747.8 602.2V610.2M763.6 602.2V610.2M775.8 602.2V610.2M785.8 602.2V610.2M794.3 602.2V610.2M801.6 602.2V610.2M808 602.2V610.2M813.8 602.2V614.7M851.8 602.2V610.2M874 602.2V610.2M889.8 602.2V610.2M902 602.2V610.2M912 602.2V610.2M920.5 602.2V610.2M927.8 602.2V610.2M934.2 602.2V610.2M940 602.2V614.7" stroke="#326767" stroke-width="2" fill="none"/>
<text transform="translate(561.4 637.2) scale(1 1.05)" font-size="16" fill="#326767" text-anchor="middle" font-weight="normal" >0.1</text>
<text transform="translate(687.6 637.2) scale(1 1.05)" font-size="16" fill="#326767" text-anchor="middle" font-weight="normal" >1</text>
<text transform="translate(813.8 637.2) scale(1 1.05)" font-size="16" fill="#326767" text-anchor="middle" font-weight="normal" >10</text>
<text transform="translate(940 637.2) scale(1 1.05)" font-size="16" fill="#326767" text-anchor="middle" font-weight="normal" >100</text>
<text transform="translate(750.8 643.2) scale(1 1.05)" font-size="15.5" fill="#326767" text-anchor="middle" font-weight="bold" >Ri</text>
<path d="M561.4 654.8H939M561.4 654.8V662.8M585 654.8V662.8M608.6 654.8V662.8M632.2 654.8V662.8M655.8 654.8V662.8M679.4 654.8V662.8M703 654.8V662.8M726.6 654.8V662.8M750.2 654.8V662.8M773.8 654.8V662.8M797.4 654.8V662.8M821 654.8V662.8M844.6 654.8V662.8M868.2 654.8V662.8M891.8 654.8V662.8M915.4 654.8V662.8M939 654.8V662.8" stroke="#000" stroke-width="2" fill="none"/>
<text transform="translate(561.4 678.1) scale(1 1.05)" font-size="16" fill="#000" text-anchor="middle" font-weight="normal" >-5</text>
<text transform="translate(608.6 678.1) scale(1 1.05)" font-size="16" fill="#000" text-anchor="middle" font-weight="normal" >0</text>
<text transform="translate(655.8 678.1) scale(1 1.05)" font-size="16" fill="#000" text-anchor="middle" font-weight="normal" >5</text>
<text transform="translate(703 678.1) scale(1 1.05)" font-size="16" fill="#000" text-anchor="middle" font-weight="normal" >10</text>
<text transform="translate(750.2 678.1) scale(1 1.05)" font-size="16" fill="#000" text-anchor="middle" font-weight="normal" >15</text>
<text transform="translate(797.4 678.1) scale(1 1.05)" font-size="16" fill="#000" text-anchor="middle" font-weight="normal" >20</text>
<text transform="translate(844.6 678.1) scale(1 1.05)" font-size="16" fill="#000" text-anchor="middle" font-weight="normal" >25</text>
<text transform="translate(891.8 678.1) scale(1 1.05)" font-size="16" fill="#000" text-anchor="middle" font-weight="normal" >30</text>
<text transform="translate(939 678.1) scale(1 1.05)" font-size="16" fill="#000" text-anchor="middle" font-weight="normal" >35</text>
<text transform="translate(750.8 699.3) scale(1 1.05)" font-size="15.5" font-weight="bold" text-anchor="middle" xml:space="preserve">N<tspan dy="-5.5" dx="1" font-size="13.5">2</tspan><tspan dy="5.5"> (S</tspan><tspan dy="-5.5" font-size="13.5">-2</tspan><tspan dy="5.5">)    x 10</tspan><tspan dy="-5.5" font-size="13.5">-4</tspan></text>
<text transform="translate(500.3 34.2) scale(1 1.04)" font-size="34" fill="#000" text-anchor="start" font-weight="bold" >B</text>
<path d="M117.9 847.5V1331M141.5 847.5V1331M165.1 847.5V1331M188.7 847.5V1331M212.3 847.5V1331M235.9 847.5V1331M259.5 847.5V1331M283.1 847.5V1331M306.7 847.5V1331M330.3 847.5V1331M353.9 847.5V1331M377.5 847.5V1331M401.1 847.5V1331M424.7 847.5V1331M448.3 847.5V1331M471.9 847.5V1331M94.3 867.6H471.9M94.3 887.8H471.9M94.3 907.9H471.9M94.3 928.1H471.9M94.3 948.2H471.9M94.3 968.4H471.9M94.3 988.5H471.9M94.3 1008.7H471.9M94.3 1028.8H471.9M94.3 1049H471.9M94.3 1069.1H471.9M94.3 1089.2H471.9M94.3 1109.4H471.9M94.3 1129.5H471.9M94.3 1149.7H471.9M94.3 1169.8H471.9M94.3 1190H471.9M94.3 1210.1H471.9M94.3 1230.3H471.9M94.3 1250.4H471.9M94.3 1270.6H471.9M94.3 1290.7H471.9M94.3 1310.9H471.9" stroke="#cbcbcb" stroke-width="1" fill="none"/>
<polyline points="140.5,848.6 142,852.6 140.5,856 142.1,859.7 146.1,858.4 155.9,860.2 149.1,861.5 140.3,862.8 140.9,863.3 142.4,867.3 141.4,870.9 142.8,874.4 140.3,877.8 141.3,882.1 141.9,885.2 142.6,889 140.8,892.5 141.6,896.4 142.4,900.4 139.8,904.4 139.5,909 139.3,910 140.3,918.3 144.5,921.4 192,923.4 216.9,925.5 266.5,926.1 173.4,927.6 216.9,929.6 328.6,932.3 161,933.8 192,935.9 152.8,936.9 156.9,940 289.3,942.1 154.8,943.1 250,945.6 177.6,946.8 305.8,949.3 156.9,952.4 206.5,954.5 163.1,955.5 144.5,959.6 145.5,970 142.4,970.7 146.9,975.5 144.1,980.3 146,984.7 143,992 141.6,993.1 142.6,996.9 140.8,1000.4 142.8,1004.2 141.5,1007.6 143.2,1011.1 141.6,1014.8 141.3,1018.7 142.2,1021.8 140.3,1025.6 142.3,1029.3 140.5,1032.8 141.7,1036.8 140.3,1040.3 142.8,1043.4 143.3,1044.1 148.5,1045.9 144.9,1047.2 139.9,1048.5 140.5,1047.2 142.1,1051.3 140.8,1054.3 141.9,1058 141.1,1061.5 141.5,1065.3 140,1068.9 142.2,1072.4 141.2,1076.6 140,1079.7 141.5,1083.3 140.3,1086.9 141.9,1090.7 140.9,1094.7 141.4,1098.2 142.6,1097.8 147.2,1099.6 144,1100.9 139.6,1102.2 140.2,1101.8 142.3,1105.3 140.6,1109.1 139.9,1113 147.3,1114.4 156.4,1116.2 150.1,1117.5 141.8,1118.8 142.4,1116.7 140.8,1120 142.1,1123.5 143.5,1124.7 150,1126.5 145.5,1127.8 139.4,1129.1 140,1127.4 141.3,1130.9 139.8,1134.2 141.7,1138.3 140.8,1141.8 141.7,1145.5 139.6,1149.4 142.4,1152.7 140.1,1156.3 143.9,1155.7 147.2,1157.5 144.9,1158.8 141.6,1160.1 142.2,1159.9 140.4,1163.4 141.6,1167.4 142,1169.2 145.2,1171 143,1172.3 139.6,1173.6 140.2,1171 142,1174.9 140.1,1178.2 142.1,1182.2 141.3,1185.7 142,1189.1 140.3,1192.9 142.2,1196.2 141.2,1199.9 141.5,1198.2 144.1,1200 142.3,1201.3 139.5,1202.6 140.1,1203.7 142.3,1207.1 139.7,1210.6 141.2,1214.8 140.5,1218.6 142.3,1221.5 139.8,1225.4 142.1,1229.4 139.6,1232.4 141.9,1236.6 139.9,1239.8 141.9,1243.6 139.9,1247.5 141.7,1251.3 139.6,1254.9 142.1,1257.8 142.2,1256.1 145.5,1257.9 143.2,1259.2 139.9,1260.5 140.5,1262 141.5,1265.2 141,1269 140.1,1272.8 141.9,1276.1 139.8,1279.8 142.1,1283.6 141.1,1287.6 140.6,1291 139.6,1294.4 140.5,1297.9 141.7,1301.8 140,1305.4 140.9,1308.8 141.6,1312.7 141.8,1311.9 144.7,1313.7 142.7,1315 139.6,1316.3 140.2,1316.6 142,1319.7 140.5,1324.1 142.4,1327.1 141,1331" fill="none" stroke="#000" stroke-width="2.4" stroke-linejoin="round" stroke-linecap="round"/>
<polyline points="298.6,861.7 270,876.2 235.9,888 142.2,900.4 126.9,913.4 451.7,926.9 294.9,939.5 395.3,952.5 296.5,964.9 342.1,977.5 466.5,989.8 292.8,1002.9 459.3,1015.9 247.3,1028.2 180,1041.7 251.4,1054.1 284.5,1066.9 433.3,1080 330.1,1093 354,1105.6 389.8,1118 458.7,1131 354,1143.6 368.1,1156.4 236.9,1169.3 298.6,1181.6 314.5,1194.7 193.5,1220.2 387.2,1233.1 374.6,1246.1 374.6,1259.2 361.6,1271.5 306.2,1284.1 230.7,1296.8 245.2,1309.6" fill="none" stroke="#326767" stroke-width="2.4" stroke-linejoin="round" stroke-linecap="round"/>
<polyline points="358.8,848.7 359.1,852.5 359.3,856.4 359.2,860.3 359.4,864.1 358.8,868 359.3,871.9 359.2,875.7 359.2,879.6 359.4,883.4 359.8,887.1 359.4,890.8 360.1,894.5 359.6,898.2 359.8,901.9 360.1,905.6 360.1,909.3 359.5,913 360.2,916.7 360.1,920.4 362.7,922.1 366,922.4 369.9,922.7 373.3,923 377.4,923.3 380.7,923.6 384.4,923.9 388.4,924.2 391.9,924.5 395.7,924.8 399.4,925.1 403.2,925.4 407,925.7 410.8,926 414.1,926.3 417.8,926.6 421.3,926.9 425.1,927.1 428.6,927.3 432.7,927.5 435.8,927.7 439.8,928 440.9,932.3 447.4,934.5 444.2,936.6 440.1,938.8 436.5,941 433.2,941.3 429.6,941.5 425.6,941.8 422.3,942.1 418.8,942.3 415,942.6 412,942.9 408.3,943.2 404.6,943.4 401.2,943.7 397,944 394.2,944.2 390.1,944.5 386.9,944.8 383.2,945.1 379,945.3 375.9,945.6 372.3,945.9 368.8,946.1 364.9,946.4 361.5,946.8 357.4,947.1 354.1,947.5 350.8,947.9 346.5,948.2 343.1,948.6 339.4,948.9 335.9,949.2 332.3,949.5 328.9,949.8 324.9,950.1 321.6,950.4 318.1,950.7 313.8,951 310.6,951.3 306.6,951.6 303.7,951.9 299.8,952.2 295.9,952.5 292.8,952.8 288.6,953.1 285.1,953.4 282,953.7 278,954 274.6,954.5 271.1,955 266.9,955.5 263.5,956 260.3,956.4 256.9,956.9 252.8,957.4 249.3,957.9 246,961 243.1,964.1 240.4,966.5 237.5,968.9 234.8,971.3 231.3,973.1 227.8,975 224.3,976.8 220.4,978.6 217.2,981.7 214.5,984.8 211.8,987.9 209,991 207.6,994.6 207.1,998.2 205.6,1001.8 204.9,1005.5 204.4,1009.6 203.3,1013.7 202.8,1017.9 202.7,1021.6 202.5,1025.3 202.1,1029 202,1032.8 201.8,1036.5 200,1040.6 197.6,1044.8 197.3,1048.9 196.1,1053 195.5,1057.2 195,1061 194.6,1064.8 193.5,1068.5 189.6,1072.2 186.2,1075.8 185.8,1079.6 184.4,1083.4 184.2,1087.2 182.1,1090.3 180.3,1093.4 178.6,1096.5 176.9,1099.6 173.2,1101.7 168.3,1103.8 164.5,1105.9 161.4,1111 157.1,1112.3 153.8,1113.6 149.8,1114.9 145.9,1116.2 145,1120.3 143.8,1124.5 140.5,1125.5 136.9,1126.5 134,1127.6 130.4,1128.6 130.9,1132.1 131.2,1135.6 130.8,1139.2 131.5,1142.7 131.4,1146.2 129.7,1150.3 127.3,1154.5 124.4,1157 122.1,1159.6 121.5,1163.4 120.7,1167.2 120.1,1171 118.6,1174.6 117.3,1178.2 116.4,1181.9 114.9,1185.5 113.8,1189.1 113.4,1192.7 112.3,1196.3 111.8,1200 111.5,1204.1 110.7,1208.2 109.8,1212.4 109.7,1216.5 108.3,1220.6 106.8,1224.8 105.6,1228.9 106.3,1232.5 107.5,1236.2 107.6,1239.8 108.7,1243.4 107.1,1247 106.5,1250.6 105,1254.3 103.5,1257.9 102.9,1261.3 102,1264.8 101.4,1268.2 101.1,1272.3 101.4,1276.5 100.9,1280.6 101,1284.8 100.4,1288.9 99.6,1292.6 99.5,1296.3 99,1300.1 97.8,1303.8 97.3,1307.5 96.7,1311.3 96.9,1315.1 96.3,1318.9 96.1,1322.7 96.1,1326.5 95.9,1330.3" fill="none" stroke="#0000ff" stroke-width="2.7" stroke-linejoin="round" stroke-linecap="round"/>
<polyline points="430,848.7 429.8,852.3 428.9,855.9 428.9,859.5 427.8,861.7 427.5,865.4 427.9,869 427.7,872.7 428.2,876.4 428.1,880 428.2,883.7 427.8,887.4 428.1,891 427.9,894.7 428.1,898.4 427.7,902 427.9,905.7 427.8,909.4 427.8,913 427.7,916.7 427.8,920.4 425.7,925.8 421.3,927.2 416.7,928.7 412.6,930.1 408.5,930.9 404.9,931.8 401.4,932.6 397.4,933.4 394.3,935.3 391.2,937.2 387.9,939.1 384.4,941 380.8,941.5 376.2,942.1 372.6,942.7 368.9,943.2 364.9,943.8 361,944.3 358.3,944.8 354.6,945.4 350.9,945.9 347.5,946.4 343.4,946.7 339.8,947.1 336,947.4 332.6,947.7 328.9,948.1 325.1,948.4 321.7,948.8 318.4,949.1 314.6,949.4 310.9,949.8 307.5,950.1 303.4,950.4 299.7,950.8 295,952.4 291,954 286.3,954.7 282,955.5 278,956.2 272.9,957 267.9,957.9 265.5,960.7 263.2,963.6 259.9,966.4 257.6,969.3 254.8,971.7 252.2,974.1 249.3,976.5 246.5,980 243.6,983.4 241.1,986.8 239.7,991 239.3,995.1 237.9,999.3 237.9,1003 236.9,1006.7 236.5,1010.4 236.3,1014.1 235.9,1017.9 235.7,1021.7 235.7,1025.6 235,1029.4 235.2,1033.2 235.4,1037.1 235.1,1040.9 234.8,1044.8 230.7,1048.9 230.1,1052.6 230.6,1056.3 230.3,1060.1 229.5,1063.8 229.7,1067.5 227.8,1070.6 225.5,1073.7 224.5,1078.2 223.2,1082.7 222.4,1087.2 221.7,1091.3 220.7,1095.5 219.3,1099.6 216.1,1102.8 212.1,1105.9 210,1110 206.8,1111.8 204.2,1113.6 200.8,1115.4 197.6,1117.2 196.5,1120.8 195.5,1124.5 192,1126.2 189,1127.9 186.2,1129.6 186,1133.3 185.3,1136.9 185.8,1140.5 185.2,1144.1 183.7,1147.7 181.8,1151.4 180.7,1155 179,1158.6 178.5,1162.2 177.8,1165.8 177.1,1169.5 176.9,1173.1 172.8,1177.2 172.5,1181 171.8,1184.8 171,1188.6 170.4,1192.4 169,1196.2 168.7,1200 168.3,1203.6 168,1207.2 167.3,1210.8 166.6,1214.4 165.8,1218.6 164.8,1222.7 163.5,1226.8 163.6,1230.4 162.9,1233.9 162.7,1237.5 162.3,1241 162.2,1244.6 161.4,1248.1 161.4,1251.7 158.7,1255.8 156.3,1259.9 155.6,1263.6 155.6,1267.3 154.6,1271 154.7,1274.6 154.2,1278.3 153.1,1282 152.8,1285.7 152.8,1289.4 152.1,1293 151,1297.2 150.7,1301.3 149.6,1305.4 149,1309.6 148.5,1313.7 149,1317.8 148.1,1322 148.6,1326.1 148,1330.3" fill="none" stroke="#ff0000" stroke-width="2.7" stroke-linejoin="round" stroke-linecap="round"/>
<polygon points="243,1088.4 261.9,1087.4 258.55,1093.95 286.35,1107.7 284.65,1111.1 256.85,1097.35 253.5,1103.9" fill="#ffff00" stroke="#c8c800" stroke-width="0.6"/>
<text transform="translate(253 1130.8)" font-size="17.5" font-weight="bold">Subsurface</text>
<text transform="translate(253.5 1151.4)" font-size="17.5" font-weight="bold">Vortex</text>
<path d="M94.3 847.5V1331M77.3 847.5H94.3M85.3 867.6H94.3M77.3 887.8H94.3M85.3 907.9H94.3M77.3 928.1H94.3M85.3 948.2H94.3M77.3 968.4H94.3M85.3 988.5H94.3M77.3 1008.7H94.3M85.3 1028.8H94.3M77.3 1049H94.3M85.3 1069.1H94.3M77.3 1089.2H94.3M85.3 1109.4H94.3M77.3 1129.5H94.3M85.3 1149.7H94.3M77.3 1169.8H94.3M85.3 1190H94.3M77.3 1210.1H94.3M85.3 1230.3H94.3M77.3 1250.4H94.3M85.3 1270.6H94.3M77.3 1290.7H94.3M85.3 1310.9H94.3M77.3 1331H94.3" stroke="#000" stroke-width="1.7" fill="none"/>
<text transform="translate(69 853.3) scale(1 1.05)" font-size="16.2" fill="#000" text-anchor="end" font-weight="normal" >0</text>
<text transform="translate(69 893.6) scale(1 1.05)" font-size="16.2" fill="#000" text-anchor="end" font-weight="normal" >50</text>
<text transform="translate(69 933.9) scale(1 1.05)" font-size="16.2" fill="#000" text-anchor="end" font-weight="normal" >100</text>
<text transform="translate(69 974.2) scale(1 1.05)" font-size="16.2" fill="#000" text-anchor="end" font-weight="normal" >150</text>
<text transform="translate(69 1014.5) scale(1 1.05)" font-size="16.2" fill="#000" text-anchor="end" font-weight="normal" >200</text>
<text transform="translate(69 1054.8) scale(1 1.05)" font-size="16.2" fill="#000" text-anchor="end" font-weight="normal" >250</text>
<text transform="translate(69 1095) scale(1 1.05)" font-size="16.2" fill="#000" text-anchor="end" font-weight="normal" >300</text>
<text transform="translate(69 1135.3) scale(1 1.05)" font-size="16.2" fill="#000" text-anchor="end" font-weight="normal" >350</text>
<text transform="translate(69 1175.6) scale(1 1.05)" font-size="16.2" fill="#000" text-anchor="end" font-weight="normal" >400</text>
<text transform="translate(69 1215.9) scale(1 1.05)" font-size="16.2" fill="#000" text-anchor="end" font-weight="normal" >450</text>
<text transform="translate(69 1256.2) scale(1 1.05)" font-size="16.2" fill="#000" text-anchor="end" font-weight="normal" >500</text>
<text transform="translate(69 1296.5) scale(1 1.05)" font-size="16.2" fill="#000" text-anchor="end" font-weight="normal" >550</text>
<text transform="translate(69 1336.8) scale(1 1.05)" font-size="16.2" fill="#000" text-anchor="end" font-weight="normal" >600</text>
<text x="30.6" y="1089.2" font-size="16" font-weight="bold" text-anchor="middle" transform="rotate(-90 30.6 1089.2)">Depth (m)</text>
<path d="M93.8 789H471M93.8 789V780M131.5 789V780M169.2 789V780M207 789V780M244.7 789V780M282.4 789V780M320.1 789V780M357.8 789V780M395.6 789V780M433.3 789V780M471 789V780" stroke="#0000ff" stroke-width="2" fill="none"/>
<text transform="translate(93.8 769.5) scale(1 1.1)" font-size="15.5" fill="#0000ff" text-anchor="middle" font-weight="normal" >34.5</text>
<text transform="translate(169.2 769.5) scale(1 1.1)" font-size="15.5" fill="#0000ff" text-anchor="middle" font-weight="normal" >35</text>
<text transform="translate(244.7 769.5) scale(1 1.1)" font-size="15.5" fill="#0000ff" text-anchor="middle" font-weight="normal" >35.5</text>
<text transform="translate(320.1 769.5) scale(1 1.1)" font-size="15.5" fill="#0000ff" text-anchor="middle" font-weight="normal" >36</text>
<text transform="translate(395.6 769.5) scale(1 1.1)" font-size="15.5" fill="#0000ff" text-anchor="middle" font-weight="normal" >36.5</text>
<text transform="translate(471 769.5) scale(1 1.1)" font-size="15.5" fill="#0000ff" text-anchor="middle" font-weight="normal" >37</text>
<text transform="translate(279.4 750.8) scale(1 1.05)" font-size="15.5" fill="#0000ff" text-anchor="middle" font-weight="bold" >Salinity</text>
<path d="M94.3 847.5H473M94.3 847.5V834.5M107.8 847.5V838.5M121.3 847.5V834.5M134.9 847.5V838.5M148.4 847.5V834.5M161.9 847.5V838.5M175.4 847.5V834.5M189 847.5V838.5M202.5 847.5V834.5M216 847.5V838.5M229.6 847.5V834.5M243.1 847.5V838.5M256.6 847.5V834.5M270.1 847.5V838.5M283.6 847.5V834.5M297.2 847.5V838.5M310.7 847.5V834.5M324.2 847.5V838.5M337.8 847.5V834.5M351.3 847.5V838.5M364.8 847.5V834.5M378.3 847.5V838.5M391.9 847.5V834.5M405.4 847.5V838.5M418.9 847.5V834.5M432.4 847.5V838.5M445.9 847.5V834.5M459.5 847.5V838.5M473 847.5V834.5" stroke="#ff0000" stroke-width="2" fill="none"/>
<text transform="translate(94.3 831.3) scale(1 1.08)" font-size="15.5" fill="#ff0000" text-anchor="middle" font-weight="normal" >2</text>
<text transform="translate(121.3 831.3) scale(1 1.08)" font-size="15.5" fill="#ff0000" text-anchor="middle" font-weight="normal" >4</text>
<text transform="translate(148.4 831.3) scale(1 1.08)" font-size="15.5" fill="#ff0000" text-anchor="middle" font-weight="normal" >6</text>
<text transform="translate(175.4 831.3) scale(1 1.08)" font-size="15.5" fill="#ff0000" text-anchor="middle" font-weight="normal" >8</text>
<text transform="translate(202.5 831.3) scale(1 1.08)" font-size="15.5" fill="#ff0000" text-anchor="middle" font-weight="normal" >10</text>
<text transform="translate(229.6 831.3) scale(1 1.08)" font-size="15.5" fill="#ff0000" text-anchor="middle" font-weight="normal" >12</text>
<text transform="translate(256.6 831.3) scale(1 1.08)" font-size="15.5" fill="#ff0000" text-anchor="middle" font-weight="normal" >14</text>
<text transform="translate(283.6 831.3) scale(1 1.08)" font-size="15.5" fill="#ff0000" text-anchor="middle" font-weight="normal" >16</text>
<text transform="translate(310.7 831.3) scale(1 1.08)" font-size="15.5" fill="#ff0000" text-anchor="middle" font-weight="normal" >18</text>
<text transform="translate(337.8 831.3) scale(1 1.08)" font-size="15.5" fill="#ff0000" text-anchor="middle" font-weight="normal" >20</text>
<text transform="translate(364.8 831.3) scale(1 1.08)" font-size="15.5" fill="#ff0000" text-anchor="middle" font-weight="normal" >22</text>
<text transform="translate(391.9 831.3) scale(1 1.08)" font-size="15.5" fill="#ff0000" text-anchor="middle" font-weight="normal" >24</text>
<text transform="translate(418.9 831.3) scale(1 1.08)" font-size="15.5" fill="#ff0000" text-anchor="middle" font-weight="normal" >26</text>
<text transform="translate(445.9 831.3) scale(1 1.08)" font-size="15.5" fill="#ff0000" text-anchor="middle" font-weight="normal" >28</text>
<text transform="translate(473 831.3) scale(1 1.08)" font-size="15.5" fill="#ff0000" text-anchor="middle" font-weight="normal" >30</text>
<text transform="translate(283.6 812.5) scale(1 1.05)" font-size="16" fill="#ff0000" text-anchor="middle" font-weight="bold" >Temperature (<tspan font-weight="normal" font-size="10" dx="1" dy="-5.5">0</tspan><tspan dx="1" dy="5.5">C)</tspan></text>
<path d="M96.2 1331H471.4M96.2 1331V1343.5M133.8 1331V1339M155.9 1331V1339M171.5 1331V1339M183.6 1331V1339M193.5 1331V1339M201.9 1331V1339M209.1 1331V1339M215.5 1331V1339M221.3 1331V1343.5M258.9 1331V1339M280.9 1331V1339M296.6 1331V1339M308.7 1331V1339M318.6 1331V1339M327 1331V1339M334.2 1331V1339M340.6 1331V1339M346.3 1331V1343.5M384 1331V1339M406 1331V1339M421.6 1331V1339M433.8 1331V1339M443.7 1331V1339M452 1331V1339M459.3 1331V1339M465.7 1331V1339M471.4 1331V1343.5" stroke="#326767" stroke-width="2" fill="none"/>
<text transform="translate(96.2 1366) scale(1 1.05)" font-size="16" fill="#326767" text-anchor="middle" font-weight="normal" >0.1</text>
<text transform="translate(221.3 1366) scale(1 1.05)" font-size="16" fill="#326767" text-anchor="middle" font-weight="normal" >1</text>
<text transform="translate(346.3 1366) scale(1 1.05)" font-size="16" fill="#326767" text-anchor="middle" font-weight="normal" >10</text>
<text transform="translate(471.4 1366) scale(1 1.05)" font-size="16" fill="#326767" text-anchor="middle" font-weight="normal" >100</text>
<text transform="translate(283.1 1372) scale(1 1.05)" font-size="15.5" fill="#326767" text-anchor="middle" font-weight="bold" >Ri</text>
<path d="M93.6 1385H471.4M93.6 1385V1393M117.2 1385V1393M140.8 1385V1393M164.4 1385V1393M188 1385V1393M211.7 1385V1393M235.3 1385V1393M258.9 1385V1393M282.5 1385V1393M306.1 1385V1393M329.7 1385V1393M353.3 1385V1393M376.9 1385V1393M400.6 1385V1393M424.2 1385V1393M447.8 1385V1393M471.4 1385V1393" stroke="#000" stroke-width="2" fill="none"/>
<text transform="translate(93.6 1408.3) scale(1 1.05)" font-size="16" fill="#000" text-anchor="middle" font-weight="normal" >-5</text>
<text transform="translate(140.8 1408.3) scale(1 1.05)" font-size="16" fill="#000" text-anchor="middle" font-weight="normal" >0</text>
<text transform="translate(188 1408.3) scale(1 1.05)" font-size="16" fill="#000" text-anchor="middle" font-weight="normal" >5</text>
<text transform="translate(235.3 1408.3) scale(1 1.05)" font-size="16" fill="#000" text-anchor="middle" font-weight="normal" >10</text>
<text transform="translate(282.5 1408.3) scale(1 1.05)" font-size="16" fill="#000" text-anchor="middle" font-weight="normal" >15</text>
<text transform="translate(329.7 1408.3) scale(1 1.05)" font-size="16" fill="#000" text-anchor="middle" font-weight="normal" >20</text>
<text transform="translate(376.9 1408.3) scale(1 1.05)" font-size="16" fill="#000" text-anchor="middle" font-weight="normal" >25</text>
<text transform="translate(424.2 1408.3) scale(1 1.05)" font-size="16" fill="#000" text-anchor="middle" font-weight="normal" >30</text>
<text transform="translate(471.4 1408.3) scale(1 1.05)" font-size="16" fill="#000" text-anchor="middle" font-weight="normal" >35</text>
<text transform="translate(283.1 1429.5) scale(1 1.05)" font-size="15.5" font-weight="bold" text-anchor="middle" xml:space="preserve">N<tspan dy="-5.5" dx="1" font-size="13.5">2</tspan><tspan dy="5.5"> (S</tspan><tspan dy="-5.5" font-size="13.5">-2</tspan><tspan dy="5.5">)    x 10</tspan><tspan dy="-5.5" font-size="13.5">-4</tspan></text>
<text transform="translate(9.4 783.3) scale(1 1.04)" font-size="34" fill="#000" text-anchor="start" font-weight="bold" >C</text>
<path d="M588.6 848.6V1331.7M612.3 848.6V1331.7M636 848.6V1331.7M659.6 848.6V1331.7M683.2 848.6V1331.7M706.9 848.6V1331.7M730.5 848.6V1331.7M754.2 848.6V1331.7M777.9 848.6V1331.7M801.5 848.6V1331.7M825.1 848.6V1331.7M848.8 848.6V1331.7M872.5 848.6V1331.7M896.1 848.6V1331.7M919.8 848.6V1331.7M943.4 848.6V1331.7M565 868.7H943.4M565 888.9H943.4M565 909H943.4M565 929.1H943.4M565 949.2H943.4M565 969.4H943.4M565 989.5H943.4M565 1009.6H943.4M565 1029.8H943.4M565 1049.9H943.4M565 1070H943.4M565 1090.2H943.4M565 1110.3H943.4M565 1130.4H943.4M565 1150.5H943.4M565 1170.7H943.4M565 1190.8H943.4M565 1210.9H943.4M565 1231.1H943.4M565 1251.2H943.4M565 1271.3H943.4M565 1291.4H943.4M565 1311.6H943.4" stroke="#cbcbcb" stroke-width="1" fill="none"/>
<polyline points="611.6,848.9 613.5,852.6 612,856.8 613.9,856.8 615.9,858.6 614.5,859.9 612.3,861.2 612.9,860.7 612.4,864.7 612.3,868.6 613,872.5 613.4,873.4 616,875.2 614.2,876.5 611.4,877.8 612,875.8 613.9,880.2 612.5,883.9 613.5,887.2 611.6,891 613.2,895.5 612.3,899 612.3,900 614.2,906.2 613,908.7 900,911 664.5,914.9 616.1,918.4 659.5,921.1 645.8,922.3 771,925.3 631,928.5 686.8,930.4 649.6,932.3 690.5,935.4 639.6,937.2 659.5,938.5 618.5,940.3 614.2,943.4 633.4,948.4 614.8,950.9 611.7,957.1 610.5,958.1 612.9,961.6 611.4,965.8 613.3,969.8 610.5,973.2 612,976.9 611.1,980.5 612.1,984.8 611.7,988.3 610.4,992.6 612.6,996.4 610.9,999.9 612.5,1004.1 610.7,1007.2 612.3,1011.5 611.3,1015.2 613.5,1018.8 612.2,1022.4 611.6,1026.5 611.8,1030.3 612.6,1030.2 615.8,1032 613.6,1033.3 610.2,1034.6 610.8,1033.9 613.2,1037.3 611.9,1040.9 613.7,1044.7 612.8,1048.9 614.4,1052.4 612.4,1056.1 614.3,1060.1 613.3,1063.4 616.1,1064.2 619.4,1066 617.1,1067.3 613.8,1068.6 614.4,1067 613.5,1071.2 614.5,1074.5 613.1,1078.3 615.4,1081.5 613.2,1085.1 615.3,1088.7 613.3,1092.8 614.2,1096.3 614,1100.1 613,1103.2 614.6,1107 612.6,1110.7 614.7,1114.1 613.8,1118.2 612.3,1121.1 614.2,1124.7 614,1128.9 614.1,1131.9 613.6,1136.3 614.8,1139.9 613,1142.7 613.8,1146.9 613.2,1150.1 613.9,1153.6 615.1,1157.5 612.9,1161.5 614.6,1164.8 612.4,1168.7 614,1171.9 612.5,1175.7 613.7,1179.5 613.5,1183.1 614.1,1186.1 618,1185.2 623.9,1187 619.8,1188.3 614.3,1189.6 614.9,1189.7 612.5,1194 614.9,1197.2 612.1,1201.2 613.4,1204.2 614.3,1207.8 612.3,1212 613.6,1215.4 614.6,1218.8 612.5,1222.5 614.1,1226.2 612.8,1229.6 616.6,1230.2 621.8,1232 618.2,1233.3 613.2,1234.6 613.8,1233.8 613.3,1237 612.5,1240.4 617.1,1241.6 623.6,1243.4 619.1,1244.7 613,1246 613.6,1244.2 612.4,1247.7 613.7,1251.2 614.6,1254.9 611.9,1259 613.8,1262.1 612.1,1265.7 613.5,1269.9 612.3,1273.2 614.2,1277 613,1280.1 613.3,1284 612.6,1287.8 614.4,1291.6 612.6,1294.8 616,1296.4 619.9,1298.2 617.2,1299.5 613.3,1300.8 613.9,1298.8 612.9,1301.8 613.8,1305.6 611.7,1309.1 614.2,1312.9 613.4,1311.9 616.6,1313.7 614.4,1315 611,1316.3 611.6,1316.6 614.1,1320.6 611.7,1324.1 614.1,1327.7 613,1331" fill="none" stroke="#000" stroke-width="2.4" stroke-linejoin="round" stroke-linecap="round"/>
<polyline points="583.9,862.8 789.3,875.8 713.1,888.6 663.5,901.4 943.4,914.3 875,926.9 925.6,939.9 830.5,952.5 840.3,965.5 570.4,991 570.4,1016.8 624.2,1029.2 765.4,1042 789.9,1055 782.3,1068 784.9,1080 783.2,1093 714.8,1105.9 868.5,1118.7 800.1,1131.5 839.2,1144.5 824,1157.1 737.9,1169.3 704.8,1182.4 723.5,1194.8 798.4,1208.1 727.6,1220.6 877.2,1233.7 814.2,1246.1 567.3,1258.9 816.4,1271.7 700.7,1284.8 943,1297.2 755.6,1310.2" fill="none" stroke="#326767" stroke-width="2.4" stroke-linejoin="round" stroke-linecap="round"/>
<polyline points="830.5,849.8 830.5,853.5 829.7,857.2 829.6,860.8 829.7,864.5 829.4,868.2 829.1,872 829.5,875.8 829.2,879.6 828.8,883.4 829.3,887.4 829.1,891.4 829.7,895.4 829.7,899.4 830.2,903.3 830.1,907.3 831.6,910.6 835.2,910.8 839.1,910.9 842.7,911.1 846.4,911.3 850.1,911.5 853.8,911.7 857.3,911.8 861,912 864.8,912.2 868.9,912.4 872.6,912.6 876.1,912.8 880.2,913.8 883.9,914.9 887.8,916 891.3,917.1 895.3,918.9 900,920.8 903.3,921.4 899.5,921.9 896.1,922.4 891.9,922.8 889,923.3 885.2,923.7 881.2,924.2 877.2,924.7 874,925.1 870.1,925.2 866.5,925.3 863.1,925.4 859.6,925.5 856,925.5 852.8,925.6 849.5,925.7 845.7,925.8 842.3,926.3 838.6,926.9 835.3,927.4 831.3,928 827.2,928.5 824,929 820,929.3 816.4,929.7 813.1,930 809.7,930.3 806.3,930.6 802,930.9 798.7,931.2 795.2,931.5 791.4,931.8 787.6,932.1 783.9,932.5 780.9,932.8 777.3,933.1 773.1,933.4 769.5,933.7 766.1,934 762.4,934.3 759,934.6 754.8,934.9 751.5,935.2 748,935.6 744.6,935.9 740.7,936.3 736.5,936.7 733.5,937 729.7,937.4 725.5,937.8 722.3,938.2 718.4,938.5 714.5,938.9 711.1,939.3 707.3,940.3 703.1,941.3 698.6,942.4 697.6,947.5 693.5,948.2 688.5,948.9 684.2,949.6 681.4,952.2 678,954.8 676,958.4 673.8,962 672,966.2 670,970.3 668.7,974.4 667.6,977.9 667.3,981.3 666.6,984.8 666.1,988.5 666.7,992.3 666.4,996.1 665.9,999.8 666.2,1003.6 666.1,1007.3 665.8,1011.1 665.5,1014.9 666.1,1018.6 666,1022.4 665.5,1026.1 663.5,1032.3 660.6,1034.4 657.3,1036.5 655.1,1040.6 652.1,1044.8 649.1,1047.9 646.9,1051 644,1055.1 640.7,1059.2 638,1063.4 634.5,1067.5 634,1071 633.4,1074.4 632.5,1077.8 633.5,1080 632,1083.1 630.5,1086.2 628.3,1089.3 627.3,1094 626.3,1098.6 625.6,1102.8 624.9,1106.9 624.2,1111 623.7,1115.2 622.6,1119.3 622.2,1123.4 621.5,1127.6 621.1,1131.7 620.8,1135.3 619.8,1138.9 619.8,1142.6 619,1146.2 618,1150.3 616.1,1154.5 614.9,1158.6 613.8,1162.7 613,1166.9 611.4,1171 610.9,1175.1 609.7,1179.3 606.9,1182.9 604.5,1186.5 603.5,1190.3 603.5,1194.1 602.5,1197.9 599.6,1202 597.3,1206.2 597.4,1210 596.7,1213.7 596.2,1217.5 596,1221.3 595.6,1225.1 595.2,1228.9 591,1230.3 587.7,1231.7 583.9,1233.1 583.1,1237.7 582.8,1242.4 579.7,1245.5 578.7,1249.6 578.1,1253.7 576.8,1257.9 575.6,1262 574.2,1266.1 573,1270.3 571.4,1274.4 570.4,1278.6 569.8,1282.7 568,1286.8 567.3,1291 569,1294.7 569.9,1298.4 572,1302.1 573.2,1305.9 574.5,1309.6 572.6,1313.7 570.4,1317.8 569.6,1322 567.9,1326.1 566.7,1330.3" fill="none" stroke="#0000ff" stroke-width="2.7" stroke-linejoin="round" stroke-linecap="round"/>
<polyline points="902.2,849.8 902.4,853.6 901.6,857.4 901.6,861.2 901.1,865 901.7,868.8 901.1,872.6 900.7,876.3 901,880 900.9,883.7 900.9,887.3 900.5,891 900.3,894.7 900.3,898.4 899.8,902.1 900,905.8 900,909.5 897.8,911.7 894.1,911.9 891,912.2 887.2,912.5 883.4,912.8 879.8,913 876.5,913.3 873.6,913.6 869.6,913.8 865.9,916 863.1,918.2 860.9,921.4 857.1,922.3 853.6,923.1 849.2,923.9 845.7,924.7 842.4,925.1 838.8,925.4 835.2,925.8 830.9,926.1 828,926.5 823.8,926.9 820.7,927.2 817,927.6 813.1,928 809.4,928.7 805.9,929.5 802.2,930.3 798.5,931.1 794.4,931.8 791.2,932.6 787.1,933.4 783.6,933.8 779.9,934.2 776.1,934.6 773.2,935 769.8,935.4 766.1,935.8 762.4,936.1 758.9,936.5 755,936.9 751.2,937.3 748,937.7 744.3,938.4 740.1,939 735.8,939.7 731.7,940.3 725.5,943.4 723.5,948.6 719.7,949.6 715.2,950.7 712.8,954.3 711.1,957.9 709.7,961.5 708.8,965.1 708.3,968.7 706.9,972.4 706.4,976.5 705.9,980.6 705.9,984.8 705.5,988.4 705.4,992 706.1,995.6 706.1,999.3 705.2,1002.9 705.7,1006.5 705.3,1010.1 705.8,1013.7 705.2,1017.4 705.6,1021 704.9,1024.6 705.3,1028.2 703,1031.3 700.7,1034.4 698.6,1039.1 696.6,1043.7 693.1,1047.3 690.4,1051 689.3,1054.3 687.4,1057.6 686.2,1060.9 684.3,1064.2 683.1,1067.5 682.3,1071.7 682.1,1075.8 681.1,1080 680,1083.6 679.4,1087.2 678.1,1090.9 676.9,1094.5 676.8,1098.6 675.8,1102.8 675.4,1106.9 674.9,1111 674.8,1115.2 673.6,1119.3 673.7,1123.4 672.8,1127.6 672.8,1131.7 672,1135.3 671.7,1138.9 671,1142.6 670.7,1146.2 669.3,1150.3 668.3,1154.5 667.8,1158.6 666.6,1162.7 666.1,1166.3 665.1,1170 664.1,1173.6 663.5,1177.2 662.3,1180.7 660.3,1184.1 659.3,1187.5 658.8,1191.3 657.7,1195 656.9,1198.7 656.1,1202.4 655.2,1206.2 654.5,1210 654.5,1213.7 654.2,1217.5 653.8,1221.3 653.5,1225.1 653.1,1228.9 648.9,1231 644.9,1233.1 643.9,1237.2 642.8,1241.3 637.6,1245.5 636.1,1249.6 635.3,1253.7 633.5,1257.9 632.2,1262 631.7,1266.1 630.4,1270.3 629.9,1274.4 629.7,1278.6 629.1,1282.7 628.3,1286.8 628.1,1290.4 628.5,1293.9 628.2,1297.5 627.4,1301 627.4,1304.6 627.2,1308.1 627.3,1311.6 623.1,1315.8 622.1,1319.4 621.1,1323 620.1,1326.6 619,1330.3" fill="none" stroke="#ff0000" stroke-width="2.7" stroke-linejoin="round" stroke-linecap="round"/>
<path d="M565 848.6V1331.7M548 848.6H565M556 868.7H565M548 888.9H565M556 909H565M548 929.1H565M556 949.2H565M548 969.4H565M556 989.5H565M548 1009.6H565M556 1029.8H565M548 1049.9H565M556 1070H565M548 1090.2H565M556 1110.3H565M548 1130.4H565M556 1150.5H565M548 1170.7H565M556 1190.8H565M548 1210.9H565M556 1231.1H565M548 1251.2H565M556 1271.3H565M548 1291.4H565M556 1311.6H565M548 1331.7H565" stroke="#000" stroke-width="1.7" fill="none"/>
<text transform="translate(539 854.4) scale(1 1.05)" font-size="16.2" fill="#000" text-anchor="end" font-weight="normal" >0</text>
<text transform="translate(539 894.7) scale(1 1.05)" font-size="16.2" fill="#000" text-anchor="end" font-weight="normal" >50</text>
<text transform="translate(539 934.9) scale(1 1.05)" font-size="16.2" fill="#000" text-anchor="end" font-weight="normal" >100</text>
<text transform="translate(539 975.2) scale(1 1.05)" font-size="16.2" fill="#000" text-anchor="end" font-weight="normal" >150</text>
<text transform="translate(539 1015.4) scale(1 1.05)" font-size="16.2" fill="#000" text-anchor="end" font-weight="normal" >200</text>
<text transform="translate(539 1055.7) scale(1 1.05)" font-size="16.2" fill="#000" text-anchor="end" font-weight="normal" >250</text>
<text transform="translate(539 1096) scale(1 1.05)" font-size="16.2" fill="#000" text-anchor="end" font-weight="normal" >300</text>
<text transform="translate(539 1136.2) scale(1 1.05)" font-size="16.2" fill="#000" text-anchor="end" font-weight="normal" >350</text>
<text transform="translate(539 1176.5) scale(1 1.05)" font-size="16.2" fill="#000" text-anchor="end" font-weight="normal" >400</text>
<text transform="translate(539 1216.7) scale(1 1.05)" font-size="16.2" fill="#000" text-anchor="end" font-weight="normal" >450</text>
<text transform="translate(539 1257) scale(1 1.05)" font-size="16.2" fill="#000" text-anchor="end" font-weight="normal" >500</text>
<text transform="translate(539 1297.2) scale(1 1.05)" font-size="16.2" fill="#000" text-anchor="end" font-weight="normal" >550</text>
<text transform="translate(539 1337.5) scale(1 1.05)" font-size="16.2" fill="#000" text-anchor="end" font-weight="normal" >600</text>
<text x="501.3" y="1090.2" font-size="16" font-weight="bold" text-anchor="middle" transform="rotate(-90 501.3 1090.2)">Depth (m)</text>
<path d="M565.1 789H942.4M565.1 789V780M602.8 789V780M640.6 789V780M678.3 789V780M716 789V780M753.8 789V780M791.5 789V780M829.2 789V780M866.9 789V780M904.7 789V780M942.4 789V780" stroke="#0000ff" stroke-width="2" fill="none"/>
<text transform="translate(565.1 769.5) scale(1 1.1)" font-size="15.5" fill="#0000ff" text-anchor="middle" font-weight="normal" >34.5</text>
<text transform="translate(640.6 769.5) scale(1 1.1)" font-size="15.5" fill="#0000ff" text-anchor="middle" font-weight="normal" >35</text>
<text transform="translate(716 769.5) scale(1 1.1)" font-size="15.5" fill="#0000ff" text-anchor="middle" font-weight="normal" >35.5</text>
<text transform="translate(791.5 769.5) scale(1 1.1)" font-size="15.5" fill="#0000ff" text-anchor="middle" font-weight="normal" >36</text>
<text transform="translate(866.9 769.5) scale(1 1.1)" font-size="15.5" fill="#0000ff" text-anchor="middle" font-weight="normal" >36.5</text>
<text transform="translate(942.4 769.5) scale(1 1.1)" font-size="15.5" fill="#0000ff" text-anchor="middle" font-weight="normal" >37</text>
<text transform="translate(750.8 750.8) scale(1 1.05)" font-size="15.5" fill="#0000ff" text-anchor="middle" font-weight="bold" >Salinity</text>
<path d="M566.1 848.6H944.8M566.1 848.6V835.6M579.6 848.6V839.6M593.1 848.6V835.6M606.7 848.6V839.6M620.2 848.6V835.6M633.7 848.6V839.6M647.2 848.6V835.6M660.8 848.6V839.6M674.3 848.6V835.6M687.8 848.6V839.6M701.4 848.6V835.6M714.9 848.6V839.6M728.4 848.6V835.6M741.9 848.6V839.6M755.5 848.6V835.6M769 848.6V839.6M782.5 848.6V835.6M796 848.6V839.6M809.5 848.6V835.6M823.1 848.6V839.6M836.6 848.6V835.6M850.1 848.6V839.6M863.6 848.6V835.6M877.2 848.6V839.6M890.7 848.6V835.6M904.2 848.6V839.6M917.8 848.6V835.6M931.3 848.6V839.6M944.8 848.6V835.6" stroke="#ff0000" stroke-width="2" fill="none"/>
<text transform="translate(566.1 832.4) scale(1 1.08)" font-size="15.5" fill="#ff0000" text-anchor="middle" font-weight="normal" >2</text>
<text transform="translate(593.1 832.4) scale(1 1.08)" font-size="15.5" fill="#ff0000" text-anchor="middle" font-weight="normal" >4</text>
<text transform="translate(620.2 832.4) scale(1 1.08)" font-size="15.5" fill="#ff0000" text-anchor="middle" font-weight="normal" >6</text>
<text transform="translate(647.2 832.4) scale(1 1.08)" font-size="15.5" fill="#ff0000" text-anchor="middle" font-weight="normal" >8</text>
<text transform="translate(674.3 832.4) scale(1 1.08)" font-size="15.5" fill="#ff0000" text-anchor="middle" font-weight="normal" >10</text>
<text transform="translate(701.4 832.4) scale(1 1.08)" font-size="15.5" fill="#ff0000" text-anchor="middle" font-weight="normal" >12</text>
<text transform="translate(728.4 832.4) scale(1 1.08)" font-size="15.5" fill="#ff0000" text-anchor="middle" font-weight="normal" >14</text>
<text transform="translate(755.5 832.4) scale(1 1.08)" font-size="15.5" fill="#ff0000" text-anchor="middle" font-weight="normal" >16</text>
<text transform="translate(782.5 832.4) scale(1 1.08)" font-size="15.5" fill="#ff0000" text-anchor="middle" font-weight="normal" >18</text>
<text transform="translate(809.5 832.4) scale(1 1.08)" font-size="15.5" fill="#ff0000" text-anchor="middle" font-weight="normal" >20</text>
<text transform="translate(836.6 832.4) scale(1 1.08)" font-size="15.5" fill="#ff0000" text-anchor="middle" font-weight="normal" >22</text>
<text transform="translate(863.6 832.4) scale(1 1.08)" font-size="15.5" fill="#ff0000" text-anchor="middle" font-weight="normal" >24</text>
<text transform="translate(890.7 832.4) scale(1 1.08)" font-size="15.5" fill="#ff0000" text-anchor="middle" font-weight="normal" >26</text>
<text transform="translate(917.8 832.4) scale(1 1.08)" font-size="15.5" fill="#ff0000" text-anchor="middle" font-weight="normal" >28</text>
<text transform="translate(944.8 832.4) scale(1 1.08)" font-size="15.5" fill="#ff0000" text-anchor="middle" font-weight="normal" >30</text>
<text transform="translate(755.5 813.6) scale(1 1.05)" font-size="16" fill="#ff0000" text-anchor="middle" font-weight="bold" >Temperature (<tspan font-weight="normal" font-size="10" dx="1" dy="-5.5">0</tspan><tspan dx="1" dy="5.5">C)</tspan></text>
<path d="M565.6 1331.7H943.3M565.6 1331.7V1344.2M603.5 1331.7V1339.7M625.7 1331.7V1339.7M641.4 1331.7V1339.7M653.6 1331.7V1339.7M663.6 1331.7V1339.7M672 1331.7V1339.7M679.3 1331.7V1339.7M685.7 1331.7V1339.7M691.5 1331.7V1344.2M729.4 1331.7V1339.7M751.6 1331.7V1339.7M767.3 1331.7V1339.7M779.5 1331.7V1339.7M789.5 1331.7V1339.7M797.9 1331.7V1339.7M805.2 1331.7V1339.7M811.6 1331.7V1339.7M817.4 1331.7V1344.2M855.3 1331.7V1339.7M877.5 1331.7V1339.7M893.2 1331.7V1339.7M905.4 1331.7V1339.7M915.4 1331.7V1339.7M923.8 1331.7V1339.7M931.1 1331.7V1339.7M937.5 1331.7V1339.7M943.3 1331.7V1344.2" stroke="#326767" stroke-width="2" fill="none"/>
<text transform="translate(565.6 1366.7) scale(1 1.05)" font-size="16" fill="#326767" text-anchor="middle" font-weight="normal" >0.1</text>
<text transform="translate(691.5 1366.7) scale(1 1.05)" font-size="16" fill="#326767" text-anchor="middle" font-weight="normal" >1</text>
<text transform="translate(817.4 1366.7) scale(1 1.05)" font-size="16" fill="#326767" text-anchor="middle" font-weight="normal" >10</text>
<text transform="translate(943.3 1366.7) scale(1 1.05)" font-size="16" fill="#326767" text-anchor="middle" font-weight="normal" >100</text>
<text transform="translate(754.2 1372.7) scale(1 1.05)" font-size="15.5" fill="#326767" text-anchor="middle" font-weight="bold" >Ri</text>
<path d="M564.9 1384.8H942.6M564.9 1384.8V1392.8M588.5 1384.8V1392.8M612.1 1384.8V1392.8M635.7 1384.8V1392.8M659.3 1384.8V1392.8M682.9 1384.8V1392.8M706.5 1384.8V1392.8M730.1 1384.8V1392.8M753.8 1384.8V1392.8M777.4 1384.8V1392.8M801 1384.8V1392.8M824.6 1384.8V1392.8M848.2 1384.8V1392.8M871.8 1384.8V1392.8M895.4 1384.8V1392.8M919 1384.8V1392.8M942.6 1384.8V1392.8" stroke="#000" stroke-width="2" fill="none"/>
<text transform="translate(564.9 1408.1) scale(1 1.05)" font-size="16" fill="#000" text-anchor="middle" font-weight="normal" >-5</text>
<text transform="translate(612.1 1408.1) scale(1 1.05)" font-size="16" fill="#000" text-anchor="middle" font-weight="normal" >0</text>
<text transform="translate(659.3 1408.1) scale(1 1.05)" font-size="16" fill="#000" text-anchor="middle" font-weight="normal" >5</text>
<text transform="translate(706.5 1408.1) scale(1 1.05)" font-size="16" fill="#000" text-anchor="middle" font-weight="normal" >10</text>
<text transform="translate(753.8 1408.1) scale(1 1.05)" font-size="16" fill="#000" text-anchor="middle" font-weight="normal" >15</text>
<text transform="translate(801 1408.1) scale(1 1.05)" font-size="16" fill="#000" text-anchor="middle" font-weight="normal" >20</text>
<text transform="translate(848.2 1408.1) scale(1 1.05)" font-size="16" fill="#000" text-anchor="middle" font-weight="normal" >25</text>
<text transform="translate(895.4 1408.1) scale(1 1.05)" font-size="16" fill="#000" text-anchor="middle" font-weight="normal" >30</text>
<text transform="translate(942.6 1408.1) scale(1 1.05)" font-size="16" fill="#000" text-anchor="middle" font-weight="normal" >35</text>
<text transform="translate(754.2 1429.3) scale(1 1.05)" font-size="15.5" font-weight="bold" text-anchor="middle" xml:space="preserve">N<tspan dy="-5.5" dx="1" font-size="13.5">2</tspan><tspan dy="5.5"> (S</tspan><tspan dy="-5.5" font-size="13.5">-2</tspan><tspan dy="5.5">)    x 10</tspan><tspan dy="-5.5" font-size="13.5">-4</tspan></text>
<text transform="translate(501.1 782.5) scale(1 1.04)" font-size="34" fill="#000" text-anchor="start" font-weight="bold" >D</text>
<path d="M121.1 1573.5V2056.3M144.8 1573.5V2056.3M168.4 1573.5V2056.3M192 1573.5V2056.3M215.7 1573.5V2056.3M239.3 1573.5V2056.3M262.9 1573.5V2056.3M286.6 1573.5V2056.3M310.2 1573.5V2056.3M333.8 1573.5V2056.3M357.4 1573.5V2056.3M381.1 1573.5V2056.3M404.7 1573.5V2056.3M428.3 1573.5V2056.3M452 1573.5V2056.3M475.6 1573.5V2056.3M97.5 1593.6H475.6M97.5 1613.7H475.6M97.5 1633.8H475.6M97.5 1654H475.6M97.5 1674.1H475.6M97.5 1694.2H475.6M97.5 1714.3H475.6M97.5 1734.4H475.6M97.5 1754.6H475.6M97.5 1774.7H475.6M97.5 1794.8H475.6M97.5 1814.9H475.6M97.5 1835H475.6M97.5 1855.1H475.6M97.5 1875.2H475.6M97.5 1895.4H475.6M97.5 1915.5H475.6M97.5 1935.6H475.6M97.5 1955.7H475.6M97.5 1975.8H475.6M97.5 1996H475.6M97.5 2016.1H475.6M97.5 2036.2H475.6" stroke="#cbcbcb" stroke-width="1" fill="none"/>
<polyline points="146,1573.8 146.9,1577.4 145.9,1581.2 145.9,1585.5 144.7,1589.2 145.7,1592.6 144.7,1596.4 145.3,1600.4 146.1,1604.2 144.2,1607.2 145.9,1611.4 144.6,1614.9 144.9,1619 144.9,1620 144.9,1626.6 151.5,1629.9 154.8,1632.4 245.8,1635.7 280.6,1636.5 209.4,1640.7 166.4,1643.2 204.5,1645.6 151.5,1650.6 145.7,1656.4 154.8,1663.8 196.2,1666.3 151.5,1671.3 145.7,1677.1 245.8,1679.6 151.5,1687 211.1,1691.5 154.8,1696.1 146.5,1699.4 144.5,1700.4 146.1,1704.2 146.7,1708.4 145.5,1712.3 146.5,1716.4 147.5,1719.7 145.3,1723.7 148.4,1727.2 145.5,1730.6 147.2,1734.3 148.8,1736.2 154,1738 150.4,1739.3 145.4,1740.6 146,1738.4 147.5,1742.1 144.5,1745.8 146.5,1749.2 145.6,1753 145.6,1756.1 144.4,1760 146.5,1763.3 146.5,1763.2 150.4,1765 147.7,1766.3 143.8,1767.6 144.4,1767.4 145.7,1771 143.7,1774.2 145.5,1778.3 144.3,1781.8 146.4,1785.2 145,1788.8 145.1,1792.6 145.1,1796.3 146.2,1800.2 143.7,1803.4 146.3,1807.6 143.7,1810.9 146,1814.8 144,1818.3 146.5,1822 144.5,1825.5 145.6,1828.8 144.3,1832.4 145.5,1836.7 146.3,1836.2 151.5,1838 147.9,1839.3 142.9,1840.6 143.5,1839.7 146.3,1843.8 144.9,1847.7 148.1,1846.2 152,1848 149.3,1849.3 145.4,1850.6 146,1851.3 145.6,1854.7 145.5,1858.4 144.6,1862.7 147.5,1866.4 145,1869.9 147.1,1873.4 145,1877 146.8,1880.8 144.8,1884.9 146.1,1888 147.1,1891.7 144.7,1895.4 147.2,1899.1 145.1,1902.6 146.9,1906.3 145,1910.5 149.5,1911.2 155.4,1913 151.3,1914.3 145.8,1915.6 146.4,1914 145.2,1917.5 146.9,1921.1 144.9,1924.9 147.8,1925.2 151.7,1927 149,1928.3 145.1,1929.6 145.7,1928.5 144.4,1932.3 147.2,1935.6 144.9,1938.9 146,1943.3 144.7,1946.2 145.6,1950 148.3,1949.2 152.2,1951 149.5,1952.3 145.6,1953.6 146.2,1954.1 144.2,1957.3 146.8,1961.1 144.4,1965 145.6,1968.1 146.4,1972.4 145.3,1975.6 145.3,1979.6 146.8,1983.5 144.1,1987.1 145.7,1990 144.5,1994.1 146.3,1997.4 143.7,2001.5 146,2004.6 144.1,2008.5 145.8,2012.6 144.9,2015.5 144.7,2019.5 143.8,2023.4 146.5,2026.8 143.8,2030.5 146.1,2034.4 143.8,2037.9 145.7,2041.8 145,2044.9 145.9,2048.7 143.6,2052.4 145,2056" fill="none" stroke="#000" stroke-width="2.4" stroke-linejoin="round" stroke-linecap="round"/>
<polyline points="144.9,1620 144.9,1626.6 151.5,1629.9 154.8,1632.4 159.1,1631.8 163.7,1631.7 167.1,1632.1 172,1633.7 175.8,1633.4 180.2,1633.4 184,1632.7 187.8,1633.9 191.2,1633.6 196.1,1634.1 200.2,1634.4 204.7,1635.3 208.1,1634.7 213.4,1634.3 216.3,1634.3 220.4,1634.5 225.4,1635.8 230,1634.4 233.1,1635.1 237,1636.4 241.5,1634.9 245.8,1635.7 249.9,1636.7 254,1636 258.6,1635.4 263.7,1636.7 267,1636.9 271.4,1636.2 276,1637 280.6,1636.5 276.9,1638 272,1638 268.5,1638.4 264.6,1636.6 260.4,1636.8 255.1,1637.5 250.5,1638.3 247.5,1639.1 243.3,1637.6 238.7,1639 234.9,1639.3 230.5,1640.7 226.5,1639 221.9,1639.8 218,1639.8 214.1,1639.8 209.4,1640.7 205.4,1640.7 200.5,1640.7 196.3,1641.9 191.6,1641.7 187.8,1642.4 183.6,1641.3 178.6,1641.7 174.5,1642 170,1642.5 166.4,1643.2 171.1,1644.6 175.3,1644.2 178.4,1643.8 183.2,1643.1 187.6,1645.6 192.3,1645.4 196.8,1644.2 199.9,1646.3 204.5,1645.6 201.1,1644.8 195.8,1647.4 191.7,1646.3 188.5,1646.1 184.5,1646.4 180.8,1647.2 176.5,1649.2 171.9,1647.8 167.7,1647.9 164.2,1648.4 159.2,1650.9 156,1651 151.5,1650.6 149,1654.2 145.7,1656.4 149.7,1660 154.8,1663.8 158.9,1662.9 162.3,1663.6 167.4,1663.5 171.2,1664.8 175.4,1665.5 180.3,1665.3 184.1,1665.6 187.8,1666.3 191.8,1667.3 196.2,1666.3 191.8,1666.3 188.6,1666.9 183.6,1667.4 179.8,1668.4 175.3,1669.8 171.4,1669.2 168.1,1670.7 163.4,1670.1 159.8,1669.7 155,1672 151.5,1671.3 147.9,1673.1 145.7,1677.1 149.9,1678.1 153.4,1676.5 158,1676.4 160.9,1676.8 166.3,1677 169.4,1678.6 174.5,1678.1 177.7,1676.7 181.2,1678.2 185.5,1677.5 190.2,1678 193.5,1678.1 197.6,1678.4 202.1,1679.1 206.5,1677.8 210,1678.3 213.5,1679.7 218.1,1679.9 221.8,1678.3 225.4,1678.7 229.3,1678.2 233.8,1678.1 237.9,1680.2 242.2,1679.2 245.8,1679.6 240.9,1679.1 238,1680.1 234.2,1681.7 230,1681.2 224.9,1680.5 222,1681.2 217.3,1682.7 213.4,1681.3 209.2,1682.9 204.3,1682.2 201.3,1682.5 197.2,1682.6 193.2,1682.8 189,1684 184.9,1683.3 180.4,1685.5 175.6,1684.6 171.6,1686.2 167.7,1686.7 163.6,1686.1 159.3,1685.6 155.3,1685.7 151.5,1687 155.3,1688.5 160.7,1687.6 164.1,1688.3 168.1,1688.5 172.8,1689.3 176.9,1688.6 181.5,1689 185.1,1690 190.4,1689.4 193.6,1689.7 198.8,1690.7 202.2,1692 207,1691.4 211.1,1691.5 206.3,1691.9 203.3,1691.7 198.8,1693.4 194.9,1691.9 191,1694.3 187.1,1693.2 182.9,1693.8 179.4,1692.9 175.2,1694.4 170.8,1695.9 166.3,1695 163.3,1695.4 158.2,1694.9 154.8,1696.1 150.5,1698.9 146.5,1699.4" fill="none" stroke="#000" stroke-width="2.5" stroke-linejoin="round" stroke-linecap="round"/>
<polyline points="203.8,1587.3 325.2,1600.2 205.8,1612.6 139.6,1626 425.5,1637.7 403.8,1651.4 475.4,1664.2 386.4,1677.5 384.2,1690.5 376.6,1702.5 237.9,1716 325.6,1727.9 371.2,1740.9 213.7,1753.6 475.4,1766.5 336.5,1792.6 144.8,1804.9 396.2,1818 312.6,1830.6 331.7,1843.7 340.8,1856 475.4,1868.6 141.7,1893.9 137.6,1906.3 369,1920.1 475.4,1932.7 247.2,1945.6 332.1,1959.2 388.6,1971.1 271,1983.3 384.2,1996.5 312.6,2009.6 198.6,2021.8 370.1,2034.5" fill="none" stroke="#326767" stroke-width="2.4" stroke-linejoin="round" stroke-linecap="round"/>
<polyline points="363.2,1574.8 363.6,1578.5 363.1,1582.3 363.2,1586 363,1589.8 363.8,1593.6 363.1,1597.3 363.6,1601.1 363.5,1604.8 363.7,1608.6 363.4,1612.4 363.4,1616.1 363.5,1619.9 363.6,1623.6 365.8,1630.1 371.2,1634.5 374.4,1634.7 378.3,1634.9 381.9,1635.1 385.9,1635.2 389.3,1635.4 392.6,1635.6 396.1,1635.8 400,1636 404.2,1636.2 407,1636.4 411,1636.6 414.9,1636.8 417.9,1636.9 422.2,1637.1 425.5,1637.3 429.4,1637.5 432.9,1637.7 435.8,1637.9 440,1638.1 442.9,1638.3 446.9,1638.5 450.5,1638.6 453.7,1638.8 457.7,1639.9 461.9,1641 465.7,1642.1 461.9,1643.8 458,1645.4 453.7,1647.1 449.2,1648 445.5,1648.8 440.7,1649.7 437.6,1653 434.2,1656.2 429.8,1661.6 426.5,1663.5 423.3,1665.3 419.2,1666 416,1666.6 412.4,1667.2 408.5,1667.8 404.5,1668.5 400.7,1669.1 396.6,1669.7 392.9,1670.3 389.4,1673.6 386.4,1676.8 379.9,1679 376.4,1679.3 372.4,1679.5 368.4,1679.7 364.8,1680 360.3,1680.2 356.4,1680.5 352.7,1680.7 349.4,1680.9 345.1,1681.2 341.4,1681.4 337.5,1681.7 334,1681.9 330.3,1682.1 327.4,1682.4 323.9,1682.6 319.4,1682.9 316.3,1683.1 312.3,1683.4 309.3,1683.6 305.1,1683.8 301.9,1684.1 297.7,1684.3 294.5,1684.6 290.8,1684.8 286.9,1685 284,1685.3 280,1685.5 274.1,1685.4 272,1689.1 268.3,1689.4 264.9,1689.8 260.7,1690.1 257.1,1690.5 254,1690.8 250,1691.2 246.7,1691.5 242.8,1691.9 238.9,1692.2 235.9,1693.4 231.9,1694.6 228.6,1695.8 225.5,1697 221.3,1698.2 218.2,1699.4 214.8,1701.5 210.9,1703.6 207.9,1705.6 204.6,1708.7 201.7,1711.8 199.5,1715.3 197.3,1718.7 195.5,1722.2 194.4,1726.3 193.7,1730.5 193.4,1734.6 190.5,1737.7 187.2,1740.8 187.2,1744.9 186.6,1749.1 186.2,1753.2 183.4,1757.3 181,1761.5 179.1,1764.6 176.9,1767.7 174.4,1771.8 172.7,1776 169.6,1782.2 169.7,1786 169.4,1789.8 169.2,1793.7 169.1,1797.5 168.6,1801.4 168.7,1805.2 168.6,1809.1 167.6,1815.3 167.2,1819.5 166.8,1823.6 166.5,1827.8 164.5,1832.4 162.4,1837.1 159.2,1839.1 156.2,1841.2 155.8,1844.8 155.1,1848.4 150.9,1851 146.9,1853.6 146.2,1857.4 144.6,1861.2 143.8,1865 142.6,1868.4 141.1,1871.9 139.6,1875.3 139.3,1879.5 138.5,1883.6 137.6,1887.7 137.3,1891.3 137.5,1895 137.1,1898.6 136.5,1902.2 134.2,1906.9 132.4,1911.5 128.6,1913.6 125.2,1915.7 123.4,1920.3 122.1,1925 117.9,1928.1 117.5,1932.5 117.3,1937 116.9,1941.5 115.9,1945 115.2,1948.4 113.8,1951.8 114.8,1958.1 111.7,1964.3 112.1,1968.4 113.1,1972.5 113.2,1976.7 113.8,1980.8 112.9,1984.9 111.4,1989.1 110.7,1993.2 110.1,1996.9 108.8,2000.7 108.4,2004.4 107.2,2008.1 106.5,2011.8 106.6,2016 106.3,2020.1 105.4,2024.2 105.5,2028.4 105,2032 104,2035.6 102.9,2039.2 102.4,2042.8 102.1,2047 101.3,2051.1 100.8,2055.3" fill="none" stroke="#0000ff" stroke-width="2.7" stroke-linejoin="round" stroke-linecap="round"/>
<polyline points="432,1574.8 431.8,1578.4 432.1,1582.1 431.5,1585.7 432.3,1589.4 432.2,1593 432.3,1596.6 431.6,1600.3 431.5,1603.9 431.3,1607.6 431.4,1611.2 431.2,1614.9 431.8,1618.5 431.5,1622.2 431.6,1625.8 431,1630.1 429.8,1634.5 425.5,1637.8 421.9,1639.1 417.8,1640.5 413.8,1641.8 410.3,1643.2 406.5,1644.2 402.6,1645.2 399.6,1646.2 395.5,1647.2 391.9,1648.2 388.6,1649.3 384.2,1654 383,1657.8 381,1661.6 377.7,1664.9 373.8,1666 370.3,1667.1 366.4,1668.2 362.2,1669.2 358.2,1670.3 355.8,1674.1 353.8,1677.9 349.8,1678.3 346.3,1678.8 343,1679.2 339.1,1679.6 335.3,1680 331.4,1680.4 328,1680.8 324.3,1681.3 320.4,1681.7 316.9,1682.1 313.2,1682.5 309.7,1682.9 306.1,1683.4 302.4,1683.9 298.9,1684.4 295.5,1685 291.4,1685.5 287.6,1686.1 284.3,1686.6 280,1689.9 284.4,1688.1 280.8,1688.8 277.3,1689.4 274.1,1690.1 270.6,1690.8 267,1691.5 263.7,1692.2 259.2,1693.9 255.7,1695.6 251.3,1697.4 247.2,1701.5 244.2,1703.6 241,1705.6 239,1709.8 236.8,1713.9 236.3,1717.4 235.8,1720.8 234.4,1724.3 233.8,1727.7 233.4,1731.1 232.7,1734.6 230.8,1737.7 228.6,1740.8 228.1,1744.4 227.5,1748 226.8,1751.7 226.5,1755.3 224.2,1759.4 222.4,1763.6 221,1767.7 219.4,1771.8 217.2,1776 216.7,1780.1 216.1,1784.2 215.3,1788.4 215.1,1792.5 215,1796.6 214.4,1800.8 214.5,1804.9 214.1,1809.1 213.9,1813.2 214.1,1817.4 213.4,1820.9 213,1824.3 211.9,1827.8 211.4,1831.2 210.5,1834.6 210,1838.1 204.8,1841.2 204.3,1844.8 203.8,1848.4 201,1851.5 197.5,1854.6 196.5,1858.8 195.9,1862.9 194.4,1867 193.3,1870.5 192.3,1873.9 191.3,1877.4 191.2,1881.5 190.8,1885.7 190.7,1889.8 190.3,1893.9 189.9,1897.6 189.4,1901.2 189.5,1904.8 189.3,1908.4 187.2,1912.5 183.7,1914.6 181,1916.7 179.2,1920.8 177.9,1925 173.8,1929.1 173.3,1933.2 172.7,1937.4 171.9,1941 171,1944.6 169.8,1948.2 168.6,1951.8 167.9,1955.5 166.9,1959.1 166.2,1962.7 165.5,1966.3 165.1,1970.5 164.7,1974.6 164.9,1978.7 164.8,1982.9 164.5,1987 162.7,1991.1 161.4,1995.3 160.5,1999.4 159.3,2003.6 158.3,2007.7 157.4,2011.8 157.2,2016 156.2,2020.1 155,2024.2 154.4,2028.4 153.7,2032.5 153.1,2036.6 152.6,2040.4 151.6,2044.1 151.7,2047.8 150.2,2051.5 150,2055.3" fill="none" stroke="#ff0000" stroke-width="2.7" stroke-linejoin="round" stroke-linecap="round"/>
<path d="M97.5 1573.5V2056.3M80.5 1573.5H97.5M88.5 1593.6H97.5M80.5 1613.7H97.5M88.5 1633.8H97.5M80.5 1654H97.5M88.5 1674.1H97.5M80.5 1694.2H97.5M88.5 1714.3H97.5M80.5 1734.4H97.5M88.5 1754.6H97.5M80.5 1774.7H97.5M88.5 1794.8H97.5M80.5 1814.9H97.5M88.5 1835H97.5M80.5 1855.1H97.5M88.5 1875.2H97.5M80.5 1895.4H97.5M88.5 1915.5H97.5M80.5 1935.6H97.5M88.5 1955.7H97.5M80.5 1975.8H97.5M88.5 1996H97.5M80.5 2016.1H97.5M88.5 2036.2H97.5M80.5 2056.3H97.5" stroke="#000" stroke-width="1.7" fill="none"/>
<text transform="translate(72.5 1579.3) scale(1 1.05)" font-size="16.2" fill="#000" text-anchor="end" font-weight="normal" >0</text>
<text transform="translate(72.5 1619.5) scale(1 1.05)" font-size="16.2" fill="#000" text-anchor="end" font-weight="normal" >50</text>
<text transform="translate(72.5 1659.8) scale(1 1.05)" font-size="16.2" fill="#000" text-anchor="end" font-weight="normal" >100</text>
<text transform="translate(72.5 1700) scale(1 1.05)" font-size="16.2" fill="#000" text-anchor="end" font-weight="normal" >150</text>
<text transform="translate(72.5 1740.2) scale(1 1.05)" font-size="16.2" fill="#000" text-anchor="end" font-weight="normal" >200</text>
<text transform="translate(72.5 1780.5) scale(1 1.05)" font-size="16.2" fill="#000" text-anchor="end" font-weight="normal" >250</text>
<text transform="translate(72.5 1820.7) scale(1 1.05)" font-size="16.2" fill="#000" text-anchor="end" font-weight="normal" >300</text>
<text transform="translate(72.5 1860.9) scale(1 1.05)" font-size="16.2" fill="#000" text-anchor="end" font-weight="normal" >350</text>
<text transform="translate(72.5 1901.2) scale(1 1.05)" font-size="16.2" fill="#000" text-anchor="end" font-weight="normal" >400</text>
<text transform="translate(72.5 1941.4) scale(1 1.05)" font-size="16.2" fill="#000" text-anchor="end" font-weight="normal" >450</text>
<text transform="translate(72.5 1981.6) scale(1 1.05)" font-size="16.2" fill="#000" text-anchor="end" font-weight="normal" >500</text>
<text transform="translate(72.5 2021.9) scale(1 1.05)" font-size="16.2" fill="#000" text-anchor="end" font-weight="normal" >550</text>
<text transform="translate(72.5 2062.1) scale(1 1.05)" font-size="16.2" fill="#000" text-anchor="end" font-weight="normal" >600</text>
<text x="33.8" y="1814.9" font-size="16" font-weight="bold" text-anchor="middle" transform="rotate(-90 33.8 1814.9)">Depth (m)</text>
<path d="M97.3 1515.3H474.5M97.3 1515.3V1506.3M135 1515.3V1506.3M172.7 1515.3V1506.3M210.5 1515.3V1506.3M248.2 1515.3V1506.3M285.9 1515.3V1506.3M323.6 1515.3V1506.3M361.3 1515.3V1506.3M399.1 1515.3V1506.3M436.8 1515.3V1506.3M474.5 1515.3V1506.3" stroke="#0000ff" stroke-width="2" fill="none"/>
<text transform="translate(97.3 1495.8) scale(1 1.1)" font-size="15.5" fill="#0000ff" text-anchor="middle" font-weight="normal" >34.5</text>
<text transform="translate(172.7 1495.8) scale(1 1.1)" font-size="15.5" fill="#0000ff" text-anchor="middle" font-weight="normal" >35</text>
<text transform="translate(248.2 1495.8) scale(1 1.1)" font-size="15.5" fill="#0000ff" text-anchor="middle" font-weight="normal" >35.5</text>
<text transform="translate(323.6 1495.8) scale(1 1.1)" font-size="15.5" fill="#0000ff" text-anchor="middle" font-weight="normal" >36</text>
<text transform="translate(399.1 1495.8) scale(1 1.1)" font-size="15.5" fill="#0000ff" text-anchor="middle" font-weight="normal" >36.5</text>
<text transform="translate(474.5 1495.8) scale(1 1.1)" font-size="15.5" fill="#0000ff" text-anchor="middle" font-weight="normal" >37</text>
<text transform="translate(282.9 1477.1) scale(1 1.05)" font-size="15.5" fill="#0000ff" text-anchor="middle" font-weight="bold" >Salinity</text>
<path d="M97.5 1573.5H476.2M97.5 1573.5V1560.5M111 1573.5V1564.5M124.5 1573.5V1560.5M138.1 1573.5V1564.5M151.6 1573.5V1560.5M165.1 1573.5V1564.5M178.6 1573.5V1560.5M192.2 1573.5V1564.5M205.7 1573.5V1560.5M219.2 1573.5V1564.5M232.8 1573.5V1560.5M246.3 1573.5V1564.5M259.8 1573.5V1560.5M273.3 1573.5V1564.5M286.9 1573.5V1560.5M300.4 1573.5V1564.5M313.9 1573.5V1560.5M327.4 1573.5V1564.5M340.9 1573.5V1560.5M354.5 1573.5V1564.5M368 1573.5V1560.5M381.5 1573.5V1564.5M395.1 1573.5V1560.5M408.6 1573.5V1564.5M422.1 1573.5V1560.5M435.6 1573.5V1564.5M449.1 1573.5V1560.5M462.7 1573.5V1564.5M476.2 1573.5V1560.5" stroke="#ff0000" stroke-width="2" fill="none"/>
<text transform="translate(97.5 1557.3) scale(1 1.08)" font-size="15.5" fill="#ff0000" text-anchor="middle" font-weight="normal" >2</text>
<text transform="translate(124.5 1557.3) scale(1 1.08)" font-size="15.5" fill="#ff0000" text-anchor="middle" font-weight="normal" >4</text>
<text transform="translate(151.6 1557.3) scale(1 1.08)" font-size="15.5" fill="#ff0000" text-anchor="middle" font-weight="normal" >6</text>
<text transform="translate(178.6 1557.3) scale(1 1.08)" font-size="15.5" fill="#ff0000" text-anchor="middle" font-weight="normal" >8</text>
<text transform="translate(205.7 1557.3) scale(1 1.08)" font-size="15.5" fill="#ff0000" text-anchor="middle" font-weight="normal" >10</text>
<text transform="translate(232.8 1557.3) scale(1 1.08)" font-size="15.5" fill="#ff0000" text-anchor="middle" font-weight="normal" >12</text>
<text transform="translate(259.8 1557.3) scale(1 1.08)" font-size="15.5" fill="#ff0000" text-anchor="middle" font-weight="normal" >14</text>
<text transform="translate(286.9 1557.3) scale(1 1.08)" font-size="15.5" fill="#ff0000" text-anchor="middle" font-weight="normal" >16</text>
<text transform="translate(313.9 1557.3) scale(1 1.08)" font-size="15.5" fill="#ff0000" text-anchor="middle" font-weight="normal" >18</text>
<text transform="translate(340.9 1557.3) scale(1 1.08)" font-size="15.5" fill="#ff0000" text-anchor="middle" font-weight="normal" >20</text>
<text transform="translate(368 1557.3) scale(1 1.08)" font-size="15.5" fill="#ff0000" text-anchor="middle" font-weight="normal" >22</text>
<text transform="translate(395.1 1557.3) scale(1 1.08)" font-size="15.5" fill="#ff0000" text-anchor="middle" font-weight="normal" >24</text>
<text transform="translate(422.1 1557.3) scale(1 1.08)" font-size="15.5" fill="#ff0000" text-anchor="middle" font-weight="normal" >26</text>
<text transform="translate(449.1 1557.3) scale(1 1.08)" font-size="15.5" fill="#ff0000" text-anchor="middle" font-weight="normal" >28</text>
<text transform="translate(476.2 1557.3) scale(1 1.08)" font-size="15.5" fill="#ff0000" text-anchor="middle" font-weight="normal" >30</text>
<text transform="translate(286.9 1538.5) scale(1 1.05)" font-size="16" fill="#ff0000" text-anchor="middle" font-weight="bold" >Temperature (<tspan font-weight="normal" font-size="10" dx="1" dy="-5.5">0</tspan><tspan dx="1" dy="5.5">C)</tspan></text>
<path d="M98 2056.3H474M98 2056.3V2068.8M135.7 2056.3V2064.3M157.8 2056.3V2064.3M173.5 2056.3V2064.3M185.6 2056.3V2064.3M195.5 2056.3V2064.3M203.9 2056.3V2064.3M211.2 2056.3V2064.3M217.6 2056.3V2064.3M223.3 2056.3V2068.8M261.1 2056.3V2064.3M283.1 2056.3V2064.3M298.8 2056.3V2064.3M310.9 2056.3V2064.3M320.9 2056.3V2064.3M329.3 2056.3V2064.3M336.5 2056.3V2064.3M342.9 2056.3V2064.3M348.7 2056.3V2068.8M386.4 2056.3V2064.3M408.5 2056.3V2064.3M424.1 2056.3V2064.3M436.3 2056.3V2064.3M446.2 2056.3V2064.3M454.6 2056.3V2064.3M461.9 2056.3V2064.3M468.3 2056.3V2064.3M474 2056.3V2068.8" stroke="#326767" stroke-width="2" fill="none"/>
<text transform="translate(98 2091.3) scale(1 1.05)" font-size="16" fill="#326767" text-anchor="middle" font-weight="normal" >0.1</text>
<text transform="translate(223.3 2091.3) scale(1 1.05)" font-size="16" fill="#326767" text-anchor="middle" font-weight="normal" >1</text>
<text transform="translate(348.7 2091.3) scale(1 1.05)" font-size="16" fill="#326767" text-anchor="middle" font-weight="normal" >10</text>
<text transform="translate(474 2091.3) scale(1 1.05)" font-size="16" fill="#326767" text-anchor="middle" font-weight="normal" >100</text>
<text transform="translate(286.6 2097.3) scale(1 1.05)" font-size="15.5" fill="#326767" text-anchor="middle" font-weight="bold" >Ri</text>
<path d="M97.5 2112.1H475.1M97.5 2112.1V2120.1M121.1 2112.1V2120.1M144.7 2112.1V2120.1M168.3 2112.1V2120.1M191.9 2112.1V2120.1M215.5 2112.1V2120.1M239.1 2112.1V2120.1M262.7 2112.1V2120.1M286.3 2112.1V2120.1M309.9 2112.1V2120.1M333.5 2112.1V2120.1M357.1 2112.1V2120.1M380.7 2112.1V2120.1M404.3 2112.1V2120.1M427.9 2112.1V2120.1M451.5 2112.1V2120.1M475.1 2112.1V2120.1" stroke="#000" stroke-width="2" fill="none"/>
<text transform="translate(97.5 2135.4) scale(1 1.05)" font-size="16" fill="#000" text-anchor="middle" font-weight="normal" >-5</text>
<text transform="translate(144.7 2135.4) scale(1 1.05)" font-size="16" fill="#000" text-anchor="middle" font-weight="normal" >0</text>
<text transform="translate(191.9 2135.4) scale(1 1.05)" font-size="16" fill="#000" text-anchor="middle" font-weight="normal" >5</text>
<text transform="translate(239.1 2135.4) scale(1 1.05)" font-size="16" fill="#000" text-anchor="middle" font-weight="normal" >10</text>
<text transform="translate(286.3 2135.4) scale(1 1.05)" font-size="16" fill="#000" text-anchor="middle" font-weight="normal" >15</text>
<text transform="translate(333.5 2135.4) scale(1 1.05)" font-size="16" fill="#000" text-anchor="middle" font-weight="normal" >20</text>
<text transform="translate(380.7 2135.4) scale(1 1.05)" font-size="16" fill="#000" text-anchor="middle" font-weight="normal" >25</text>
<text transform="translate(427.9 2135.4) scale(1 1.05)" font-size="16" fill="#000" text-anchor="middle" font-weight="normal" >30</text>
<text transform="translate(475.1 2135.4) scale(1 1.05)" font-size="16" fill="#000" text-anchor="middle" font-weight="normal" >35</text>
<text transform="translate(286.6 2156.6) scale(1 1.05)" font-size="15.5" font-weight="bold" text-anchor="middle" xml:space="preserve">N<tspan dy="-5.5" dx="1" font-size="13.5">2</tspan><tspan dy="5.5"> (S</tspan><tspan dy="-5.5" font-size="13.5">-2</tspan><tspan dy="5.5">)    x 10</tspan><tspan dy="-5.5" font-size="13.5">-4</tspan></text>
<text transform="translate(8.4 1508.3) scale(1 1.04)" font-size="34" fill="#000" text-anchor="start" font-weight="bold" >E</text>
<path d="M590.5 1576.1V2060M614.1 1576.1V2060M637.8 1576.1V2060M661.4 1576.1V2060M685 1576.1V2060M708.6 1576.1V2060M732.2 1576.1V2060M755.8 1576.1V2060M779.5 1576.1V2060M803.1 1576.1V2060M826.7 1576.1V2060M850.3 1576.1V2060M873.9 1576.1V2060M897.6 1576.1V2060M921.2 1576.1V2060M944.8 1576.1V2060M566.9 1596.3H944.8M566.9 1616.4H944.8M566.9 1636.6H944.8M566.9 1656.8H944.8M566.9 1676.9H944.8M566.9 1697.1H944.8M566.9 1717.2H944.8M566.9 1737.4H944.8M566.9 1757.6H944.8M566.9 1777.7H944.8M566.9 1797.9H944.8M566.9 1818H944.8M566.9 1838.2H944.8M566.9 1858.4H944.8M566.9 1878.5H944.8M566.9 1898.7H944.8M566.9 1918.9H944.8M566.9 1939H944.8M566.9 1959.2H944.8M566.9 1979.3H944.8M566.9 1999.5H944.8M566.9 2019.7H944.8M566.9 2039.8H944.8" stroke="#cbcbcb" stroke-width="1" fill="none"/>
<polyline points="612.9,1578.6 615.5,1581.2 613.4,1586.3 618.6,1588.4 624.3,1592 615.5,1594.1 615.5,1597.7 644.5,1600.8 618.6,1603.4 651.2,1605.2 617.6,1609.1 642.4,1612.7 621.7,1614.8 645,1616.3 630,1618.9 685.8,1621 640.3,1623.8 676,1625.8 641.4,1629.3 650.7,1630 626.9,1632.4 637.2,1634.4 616.5,1638 650.2,1641.9 618.6,1643.7 639.3,1646.8 621.7,1650.5 625.3,1654.1 654.8,1656.5 615.5,1658.7 641.4,1663.4 614.5,1667.5 627.4,1673.2 613.4,1675.8 651.7,1679.7 613.4,1681.5 640.8,1686.7 620.7,1688.2 643.4,1690.3 615.5,1693.9 616.5,1699.1 615.5,1700 633.7,1702.5 614.8,1704.6 628,1707.3 615.1,1709.5 622.3,1711.5 617.1,1714.2 630.6,1717 615.2,1719 632.2,1720.8 614.7,1722.8 625.4,1726.1 616,1729.4 644.8,1731.4 630.5,1732.3 616.4,1734.1 626.6,1736 613.7,1737.7 619.6,1739.9 616.9,1742 617.2,1745 627.7,1746.8 615.4,1748.7 621.3,1751.8 614.1,1754.2 627.8,1757.5 614,1759.3 623,1761.7 614.9,1764.6 619.3,1767.2 613.8,1769 634.5,1769.7 623.5,1771.5 617.2,1774.1 616.2,1776 615.6,1779.9 614.7,1782.9 616.5,1786.5 615.1,1790.1 615.1,1794.3 616.7,1797.4 614.9,1801.5 616.1,1804.6 614.1,1808.8 616.2,1812.3 615.1,1815.4 616,1819.1 614.5,1822.8 621.6,1823.8 630.1,1825.6 624.2,1826.9 616.5,1828.2 617.1,1826.7 614.9,1829.9 616.8,1834 614,1837.4 616.9,1841 615.2,1844.5 615.9,1848.2 614,1851.8 616.2,1855.9 617.7,1855.8 622.3,1857.6 619.1,1858.9 614.7,1860.2 615.3,1859.3 616.3,1862.6 618.1,1862.5 625.3,1864.3 620.3,1865.6 613.7,1866.9 614.3,1866.9 616.1,1870.1 613.8,1874.2 615,1877.4 616.9,1877.6 620.1,1879.4 617.9,1880.7 614.5,1882 615.1,1881 614,1884.6 615,1888.7 614,1892.3 615.2,1895.6 615.5,1899 615.5,1902.8 614.2,1906.5 616,1910.3 615.1,1914 616.1,1917.4 613.5,1921.3 614.7,1925 616.7,1928.2 615.1,1927.2 618.4,1929 616.1,1930.3 612.8,1931.6 613.4,1932.3 614.8,1935.9 614.5,1939.2 616.1,1943.2 614.7,1947.1 616.6,1950.1 613.5,1954.1 616.4,1957.7 614.6,1961.5 614.9,1965.3 615.2,1968.6 614.1,1972.4 615.2,1976.3 613.2,1979.4 615.7,1983.4 614.6,1987.3 613.4,1991 616.1,1994.6 614.5,1997.7 614.9,2001.4 614.3,2005.2 616.1,2005.8 619.4,2007.6 617.1,2008.9 613.8,2010.2 614.4,2008.5 614.3,2012.4 615.8,2016 613.3,2019.6 615.1,2023.7 614.1,2026.9 615.6,2030.7 614.4,2034.5 615.5,2038.2 613.8,2041.5 614.9,2045.5 615.2,2047.1 617.8,2048.9 616,2050.2 613.2,2051.5 613.8,2049.2 616.1,2052.5 613.7,2056.2 614.5,2060" fill="none" stroke="#000" stroke-width="1.8" stroke-linejoin="round" stroke-linecap="round"/>
<polyline points="615.8,1583 619.3,1584.9 617.8,1587.2 622.6,1589.6 614.7,1590.9 619.5,1592.2 616,1594.1 628.9,1596.3 615.2,1597.8 619.6,1599.3 615.3,1601.2 630.6,1602.4 618.3,1604 627.7,1606.3 615.1,1607.7 628.6,1609.1 615.7,1610.8 623.7,1611.8 614.8,1613.4 623,1614.7 616.5,1616.3 630.1,1618.1 614.9,1619.5 622,1621 616.4,1622.8 620.4,1624.2 617,1626.3 628.2,1628.1 614.6,1630.3 625.2,1631.6 616.5,1633.6 623.1,1635.3 618,1636.6 625.6,1639 615,1640.6 621.9,1642.5 615.6,1644.3 630.3,1646 616.6,1647.4 625.4,1648.9 616.5,1651.1 624.4,1653.4 617.1,1655.1 627.8,1656.8 614.6,1658.2 620,1659.8 616.9,1661.1 630.8,1663.1 616.7,1665 625.3,1666.5 614.9,1667.9 627.3,1669.7 617.5,1671.1 623.2,1672.9 614.6,1675 623.3,1676.4 615.5,1678.4 620.5,1680.7 616.4,1682.3 622.5,1684.4 617.5,1685.6 626.6,1687.7 616.1,1690 625.6,1691.6 617.8,1692.8 620.2,1693.9 616.3,1696.1 630.6,1697.4 616.3,1698.6 621,1699.7" fill="none" stroke="#000" stroke-width="1.5" stroke-linejoin="round" stroke-linecap="round"/>
<polyline points="614.8,1700 629.9,1701.8 616.7,1703.3 627.1,1704.8 616.9,1706.8 626.7,1709.1 616,1710.6 626.6,1712.5 617.7,1713.8 627.5,1715.5 615.8,1716.6 623.5,1717.7 615.9,1719 628.3,1720.3 615.9,1722.2 620.9,1723.9 618.1,1726.2 620.5,1728 615.4,1730.3 623.5,1731.4 617.9,1733 619.5,1734.2 614.7,1735.8 624.3,1737.7 618.2,1739.9 627.6,1741.3 618.3,1743 623.9,1744.1" fill="none" stroke="#000" stroke-width="1.5" stroke-linejoin="round" stroke-linecap="round"/>
<polyline points="615.1,1745 621.4,1747 616.3,1748.9 621,1750.9 614.4,1752.4 622.9,1754.1 615.4,1755.3 621.3,1757.2 617.4,1759.1 621.4,1761.8 617.5,1763.3 620.6,1765.9 617.5,1768.3 618.9,1771.1" fill="none" stroke="#000" stroke-width="1.5" stroke-linejoin="round" stroke-linecap="round"/>
<polyline points="634.9,1578.3 735.8,1584.5 695.5,1591.2 821.7,1596.9 842.3,1603.8 671.3,1610.4 744.1,1617 715.1,1623.4 725.5,1630 719.3,1635.8 721.3,1642 696.1,1648.7 900.9,1654.9 910.3,1661.4 827.1,1667.9 926.3,1674.4 865.1,1680.5 923.7,1687 858.6,1693.5 943.3,1699.4 943.3,1706.5 842.3,1712.4 856.4,1719.4 919.4,1725.4 887.9,1732 915,1738 737.9,1744.2 729.6,1751 943.9,1763.9 764.1,1776.9 747.2,1783.1 896.6,1789.5 760.9,1796 910.3,1802.1 779.3,1815.1 797.8,1821 760.4,1828 843.4,1834.1 775.6,1840.6 918.3,1847.1 678.9,1853.1 944.4,1859.5 708.9,1865.9 713,1872.5 767.4,1878.6 742,1885.6 667.5,1891.8 836.9,1897.5 889,1904.2 757.6,1910.7 927,1916.6 936.3,1923.5 715.5,1930 744.1,1936.6 739.9,1942.8 707.9,1949.7 759.8,1955.2 708.5,1962.1 723.4,1968.3 892.2,1974.6 669.6,1987.5 944.4,1999.7 695.5,2007 834.3,2019.1 659.3,2025.6 565.2,2038" fill="none" stroke="#326767" stroke-width="2.4" stroke-linejoin="round" stroke-linecap="round"/>
<polyline points="789.1,1578.9 788.9,1582.6 789.2,1586.3 788.6,1590 789.5,1593.7 789.4,1597.5 789.5,1601.2 789.1,1604.9 791.3,1608.2 795.4,1609.8 799.9,1611.4 804,1613.6 808.6,1615.8 815.1,1617.5 818.3,1617.8 822,1618.1 825.4,1618.3 829.5,1618.6 832.8,1618.9 836.8,1619.2 840.3,1619.4 843.4,1619.7 846.8,1620 850.5,1620.3 854.2,1620.6 857.1,1622 860.8,1623.4 858.6,1627.7 860.8,1631 857,1631.2 852.8,1631.5 848.9,1631.7 845.7,1631.9 841.4,1632.2 838,1632.4 834.2,1632.7 830,1632.9 826,1633.1 822.8,1635.3 826.1,1635.9 829.5,1636.4 833.1,1637 836.9,1637.5 841.4,1638.2 845.6,1638.9 849.9,1639.7 854.2,1642.9 847.7,1644.4 843.9,1644.7 840.1,1645 836.7,1645.3 833.2,1645.6 829.2,1645.9 826,1646.2 822.2,1646.8 818.6,1647.4 815.1,1648.1 811.5,1648.7 808,1649.3 804.6,1650 800.5,1650.6 796.7,1651.2 793.3,1651.9 789.6,1652.5 786.3,1653.1 782.6,1653.8 778.9,1654.1 775.2,1654.5 771.4,1654.9 768.3,1655.2 764.6,1655.6 761,1656 757.4,1656.3 753.9,1656.7 750,1657 746.1,1656.9 741.6,1657.2 737.6,1657.5 733.7,1657.7 729.6,1658 723.4,1660 720.1,1661.4 716.5,1662.8 713.1,1664.2 709.6,1665.2 706,1666.2 702.7,1667.3 700.6,1669.3 696.3,1671.4 692.4,1673.5 690.6,1677.6 688.2,1681.8 687.3,1685.2 685.5,1688.6 684.1,1692.1 682,1698.3 680.6,1701.7 678.9,1705.2 677.9,1708.6 676.6,1712.8 674.9,1716.9 673.8,1721.1 672.5,1724.5 670.8,1727.9 669.6,1731.4 668.9,1734.8 668.6,1738.3 667.5,1741.7 666.7,1745.9 666.2,1750 665.5,1754.1 664.8,1759.3 664.4,1764.5 661.3,1768.6 660,1772.8 658.9,1776.9 657.2,1781 655.1,1785.2 653.1,1789.3 652.8,1793.4 651.6,1797.6 651,1801.7 648.9,1808 646.8,1811.8 644.9,1815.6 642.7,1819.4 642.2,1823.5 641.7,1827.6 636.5,1831.8 635.1,1835.4 633.4,1839 632.8,1843.2 632.2,1847.3 632.1,1851.4 631.4,1855.6 631.4,1859.7 628,1863.3 625.1,1866.9 624.4,1870.5 623.7,1874 623,1877.5 622,1881 621,1884.5 619,1887.6 616.7,1890.7 614.8,1893.8 612.7,1896.9 610.5,1900.6 608.2,1904.2 606.6,1907.8 604.5,1911.4 604.3,1915 603.8,1918.7 603.9,1922.3 603.4,1925.9 601.4,1929 599.3,1932.1 598.3,1936.2 598.1,1940.4 596.5,1944.5 596.2,1948.6 594.6,1952.8 593.3,1956.9 592.1,1961.1 590.9,1964.7 589.2,1968.3 588.6,1971.9 586.9,1975.5 585.2,1979.7 584.1,1983.8 582.8,1987.9 581.9,1992.1 581.4,1996.2 580.2,2000.3 579.6,2004.5 578.6,2008.6 578.3,2012.8 577.6,2016.9 576.5,2021 576,2025.2 575.7,2029.3 574.6,2033.4 574,2037.6 573.4,2041.7 572.8,2045.4 571.9,2049.2 571.9,2052.9 570.6,2056.6 570.3,2060.3" fill="none" stroke="#0000ff" stroke-width="2.7" stroke-linejoin="round" stroke-linecap="round"/>
<polyline points="931.3,1578.9 931,1582.5 931.4,1586.2 931.8,1589.9 931.2,1593.5 931.4,1597.2 931.2,1600.8 931.5,1604.5 931.3,1608.2 928.2,1610 924.9,1611.8 921.6,1613.6 918.7,1615.1 915.2,1616.5 911.8,1617.9 910.7,1623.4 906.2,1624.5 901.9,1625.5 897.7,1626.6 894.2,1627.9 890.6,1629.2 886.8,1630.5 882.6,1631 879.1,1631.4 874.8,1631.8 871.1,1632.3 866.5,1632.7 862.9,1633.1 858.4,1634.8 854.2,1636.4 849.8,1637.3 846.2,1638.2 842.1,1639.1 838.2,1640 834.1,1640.9 830.4,1641.8 826.9,1642.5 823,1643.2 819,1643.9 815.3,1644.6 811.3,1645.3 808.2,1646 804.5,1646.7 800.4,1647.4 796.3,1648.1 793.2,1648.7 789.1,1649.4 782.6,1650.5 779.1,1652.2 776.1,1653.8 771.9,1654.4 768.5,1655 764.8,1655.6 761.5,1656.3 757.1,1656.9 753.3,1657.5 750,1658.1 744.9,1658.6 739.9,1659 735.4,1661.6 731.7,1664.2 727.7,1666.2 723.4,1668.3 719.3,1672.4 717.7,1676.1 716.2,1679.7 715.7,1683.3 715,1686.9 713.6,1690.5 713.1,1694.2 712.3,1698.3 711,1702.4 709.9,1706.6 709.6,1710.7 708,1714.8 707.6,1719 706.8,1723.1 706.2,1726.6 704.4,1730 703.7,1733.5 703.3,1737.1 703.1,1740.7 702.8,1744.3 702.7,1747.9 702.7,1751.7 701.6,1755.4 701.8,1759.1 700.8,1762.8 700.6,1766.6 699.6,1770 697.6,1773.4 696.5,1776.9 695.4,1780.5 695.4,1784.1 693.7,1787.8 693.4,1791.4 692.8,1795 691.6,1798.6 691.1,1802.2 690.3,1805.8 690.3,1808 688.1,1812.7 686.2,1817.3 685.8,1822.5 685.1,1827.6 681,1832.8 680.5,1836.3 679.8,1839.7 678.9,1843.2 678.1,1847.3 678.2,1851.4 677.1,1855.6 676.9,1859.7 674.9,1863.8 672.7,1868 672.1,1871.8 671.2,1875.6 670.2,1879.4 669.3,1883.1 668.1,1886.9 667.5,1890.7 664.8,1893.8 661.3,1896.9 660.1,1900.4 658.8,1903.8 657.2,1907.3 656.9,1911.4 655.8,1915.5 654.7,1919.7 654.1,1923.8 652.5,1928 651,1932.1 649.9,1936.2 649.3,1940.4 649,1944.5 647.9,1948.6 646.8,1952.8 645,1956.9 644,1961.1 642.7,1965.2 641.1,1968.8 639.9,1972.4 638.4,1976 636.5,1979.7 635.5,1983.5 634.4,1987.2 633.7,1991 633.1,1994.8 632.1,1998.6 631.4,2002.4 630.2,2005.9 630.2,2009.3 629.3,2012.8 628.6,2016.4 627.6,2020 626.5,2023.6 626.2,2027.2 625.3,2031.4 624.7,2035.5 623.5,2039.6 623.1,2043.8 622.2,2047.9 621.6,2052.1 621.1,2056.2 621,2060.3" fill="none" stroke="#ff0000" stroke-width="2.7" stroke-linejoin="round" stroke-linecap="round"/>
<path d="M566.9 1576.1V2060M549.9 1576.1H566.9M557.9 1596.3H566.9M549.9 1616.4H566.9M557.9 1636.6H566.9M549.9 1656.8H566.9M557.9 1676.9H566.9M549.9 1697.1H566.9M557.9 1717.2H566.9M549.9 1737.4H566.9M557.9 1757.6H566.9M549.9 1777.7H566.9M557.9 1797.9H566.9M549.9 1818H566.9M557.9 1838.2H566.9M549.9 1858.4H566.9M557.9 1878.5H566.9M549.9 1898.7H566.9M557.9 1918.9H566.9M549.9 1939H566.9M557.9 1959.2H566.9M549.9 1979.3H566.9M557.9 1999.5H566.9M549.9 2019.7H566.9M557.9 2039.8H566.9M549.9 2060H566.9" stroke="#000" stroke-width="1.7" fill="none"/>
<text transform="translate(541.6 1581.9) scale(1 1.05)" font-size="16.2" fill="#000" text-anchor="end" font-weight="normal" >0</text>
<text transform="translate(541.6 1622.2) scale(1 1.05)" font-size="16.2" fill="#000" text-anchor="end" font-weight="normal" >50</text>
<text transform="translate(541.6 1662.5) scale(1 1.05)" font-size="16.2" fill="#000" text-anchor="end" font-weight="normal" >100</text>
<text transform="translate(541.6 1702.9) scale(1 1.05)" font-size="16.2" fill="#000" text-anchor="end" font-weight="normal" >150</text>
<text transform="translate(541.6 1743.2) scale(1 1.05)" font-size="16.2" fill="#000" text-anchor="end" font-weight="normal" >200</text>
<text transform="translate(541.6 1783.5) scale(1 1.05)" font-size="16.2" fill="#000" text-anchor="end" font-weight="normal" >250</text>
<text transform="translate(541.6 1823.8) scale(1 1.05)" font-size="16.2" fill="#000" text-anchor="end" font-weight="normal" >300</text>
<text transform="translate(541.6 1864.2) scale(1 1.05)" font-size="16.2" fill="#000" text-anchor="end" font-weight="normal" >350</text>
<text transform="translate(541.6 1904.5) scale(1 1.05)" font-size="16.2" fill="#000" text-anchor="end" font-weight="normal" >400</text>
<text transform="translate(541.6 1944.8) scale(1 1.05)" font-size="16.2" fill="#000" text-anchor="end" font-weight="normal" >450</text>
<text transform="translate(541.6 1985.1) scale(1 1.05)" font-size="16.2" fill="#000" text-anchor="end" font-weight="normal" >500</text>
<text transform="translate(541.6 2025.5) scale(1 1.05)" font-size="16.2" fill="#000" text-anchor="end" font-weight="normal" >550</text>
<text transform="translate(541.6 2065.8) scale(1 1.05)" font-size="16.2" fill="#000" text-anchor="end" font-weight="normal" >600</text>
<text x="503.2" y="1818" font-size="16" font-weight="bold" text-anchor="middle" transform="rotate(-90 503.2 1818)">Depth (m)</text>
<path d="M566.4 1518.7H943.8M566.4 1518.7V1509.7M604.1 1518.7V1509.7M641.9 1518.7V1509.7M679.6 1518.7V1509.7M717.4 1518.7V1509.7M755.1 1518.7V1509.7M792.8 1518.7V1509.7M830.6 1518.7V1509.7M868.3 1518.7V1509.7M906.1 1518.7V1509.7M943.8 1518.7V1509.7" stroke="#0000ff" stroke-width="2" fill="none"/>
<text transform="translate(566.4 1499.2) scale(1 1.1)" font-size="15.5" fill="#0000ff" text-anchor="middle" font-weight="normal" >34.5</text>
<text transform="translate(641.9 1499.2) scale(1 1.1)" font-size="15.5" fill="#0000ff" text-anchor="middle" font-weight="normal" >35</text>
<text transform="translate(717.4 1499.2) scale(1 1.1)" font-size="15.5" fill="#0000ff" text-anchor="middle" font-weight="normal" >35.5</text>
<text transform="translate(792.8 1499.2) scale(1 1.1)" font-size="15.5" fill="#0000ff" text-anchor="middle" font-weight="normal" >36</text>
<text transform="translate(868.3 1499.2) scale(1 1.1)" font-size="15.5" fill="#0000ff" text-anchor="middle" font-weight="normal" >36.5</text>
<text transform="translate(943.8 1499.2) scale(1 1.1)" font-size="15.5" fill="#0000ff" text-anchor="middle" font-weight="normal" >37</text>
<text transform="translate(752.1 1480.5) scale(1 1.05)" font-size="15.5" fill="#0000ff" text-anchor="middle" font-weight="bold" >Salinity</text>
<path d="M566.9 1576.1H945.7M566.9 1576.1V1563.1M580.4 1576.1V1567.1M594 1576.1V1563.1M607.5 1576.1V1567.1M621 1576.1V1563.1M634.5 1576.1V1567.1M648.1 1576.1V1563.1M661.6 1576.1V1567.1M675.1 1576.1V1563.1M688.7 1576.1V1567.1M702.2 1576.1V1563.1M715.7 1576.1V1567.1M729.2 1576.1V1563.1M742.8 1576.1V1567.1M756.3 1576.1V1563.1M769.8 1576.1V1567.1M783.4 1576.1V1563.1M796.9 1576.1V1567.1M810.4 1576.1V1563.1M823.9 1576.1V1567.1M837.5 1576.1V1563.1M851 1576.1V1567.1M864.5 1576.1V1563.1M878.1 1576.1V1567.1M891.6 1576.1V1563.1M905.1 1576.1V1567.1M918.6 1576.1V1563.1M932.2 1576.1V1567.1M945.7 1576.1V1563.1" stroke="#ff0000" stroke-width="2" fill="none"/>
<text transform="translate(566.9 1559.9) scale(1 1.08)" font-size="15.5" fill="#ff0000" text-anchor="middle" font-weight="normal" >2</text>
<text transform="translate(594 1559.9) scale(1 1.08)" font-size="15.5" fill="#ff0000" text-anchor="middle" font-weight="normal" >4</text>
<text transform="translate(621 1559.9) scale(1 1.08)" font-size="15.5" fill="#ff0000" text-anchor="middle" font-weight="normal" >6</text>
<text transform="translate(648.1 1559.9) scale(1 1.08)" font-size="15.5" fill="#ff0000" text-anchor="middle" font-weight="normal" >8</text>
<text transform="translate(675.1 1559.9) scale(1 1.08)" font-size="15.5" fill="#ff0000" text-anchor="middle" font-weight="normal" >10</text>
<text transform="translate(702.2 1559.9) scale(1 1.08)" font-size="15.5" fill="#ff0000" text-anchor="middle" font-weight="normal" >12</text>
<text transform="translate(729.2 1559.9) scale(1 1.08)" font-size="15.5" fill="#ff0000" text-anchor="middle" font-weight="normal" >14</text>
<text transform="translate(756.3 1559.9) scale(1 1.08)" font-size="15.5" fill="#ff0000" text-anchor="middle" font-weight="normal" >16</text>
<text transform="translate(783.4 1559.9) scale(1 1.08)" font-size="15.5" fill="#ff0000" text-anchor="middle" font-weight="normal" >18</text>
<text transform="translate(810.4 1559.9) scale(1 1.08)" font-size="15.5" fill="#ff0000" text-anchor="middle" font-weight="normal" >20</text>
<text transform="translate(837.5 1559.9) scale(1 1.08)" font-size="15.5" fill="#ff0000" text-anchor="middle" font-weight="normal" >22</text>
<text transform="translate(864.5 1559.9) scale(1 1.08)" font-size="15.5" fill="#ff0000" text-anchor="middle" font-weight="normal" >24</text>
<text transform="translate(891.6 1559.9) scale(1 1.08)" font-size="15.5" fill="#ff0000" text-anchor="middle" font-weight="normal" >26</text>
<text transform="translate(918.6 1559.9) scale(1 1.08)" font-size="15.5" fill="#ff0000" text-anchor="middle" font-weight="normal" >28</text>
<text transform="translate(945.7 1559.9) scale(1 1.08)" font-size="15.5" fill="#ff0000" text-anchor="middle" font-weight="normal" >30</text>
<text transform="translate(756.3 1541.1) scale(1 1.05)" font-size="16" fill="#ff0000" text-anchor="middle" font-weight="bold" >Temperature (<tspan font-weight="normal" font-size="10" dx="1" dy="-5.5">0</tspan><tspan dx="1" dy="5.5">C)</tspan></text>
<path d="M567.6 2060H943.8M567.6 2060V2072.5M605.3 2060V2068M627.4 2060V2068M643.1 2060V2068M655.3 2060V2068M665.2 2060V2068M673.6 2060V2068M680.8 2060V2068M687.3 2060V2068M693 2060V2072.5M730.7 2060V2068M752.8 2060V2068M768.5 2060V2068M780.7 2060V2068M790.6 2060V2068M799 2060V2068M806.2 2060V2068M812.7 2060V2068M818.4 2060V2072.5M856.1 2060V2068M878.2 2060V2068M893.9 2060V2068M906.1 2060V2068M916 2060V2068M924.4 2060V2068M931.6 2060V2068M938.1 2060V2068M943.8 2060V2072.5" stroke="#326767" stroke-width="2" fill="none"/>
<text transform="translate(567.6 2095) scale(1 1.05)" font-size="16" fill="#326767" text-anchor="middle" font-weight="normal" >0.1</text>
<text transform="translate(693 2095) scale(1 1.05)" font-size="16" fill="#326767" text-anchor="middle" font-weight="normal" >1</text>
<text transform="translate(818.4 2095) scale(1 1.05)" font-size="16" fill="#326767" text-anchor="middle" font-weight="normal" >10</text>
<text transform="translate(943.8 2095) scale(1 1.05)" font-size="16" fill="#326767" text-anchor="middle" font-weight="normal" >100</text>
<text transform="translate(755.8 2101) scale(1 1.05)" font-size="15.5" fill="#326767" text-anchor="middle" font-weight="bold" >Ri</text>
<path d="M566.4 2112.9H944M566.4 2112.9V2120.9M590 2112.9V2120.9M613.6 2112.9V2120.9M637.2 2112.9V2120.9M660.8 2112.9V2120.9M684.4 2112.9V2120.9M708 2112.9V2120.9M731.6 2112.9V2120.9M755.2 2112.9V2120.9M778.8 2112.9V2120.9M802.4 2112.9V2120.9M826 2112.9V2120.9M849.6 2112.9V2120.9M873.2 2112.9V2120.9M896.8 2112.9V2120.9M920.4 2112.9V2120.9M944 2112.9V2120.9" stroke="#000" stroke-width="2" fill="none"/>
<text transform="translate(566.4 2136.2) scale(1 1.05)" font-size="16" fill="#000" text-anchor="middle" font-weight="normal" >-5</text>
<text transform="translate(613.6 2136.2) scale(1 1.05)" font-size="16" fill="#000" text-anchor="middle" font-weight="normal" >0</text>
<text transform="translate(660.8 2136.2) scale(1 1.05)" font-size="16" fill="#000" text-anchor="middle" font-weight="normal" >5</text>
<text transform="translate(708 2136.2) scale(1 1.05)" font-size="16" fill="#000" text-anchor="middle" font-weight="normal" >10</text>
<text transform="translate(755.2 2136.2) scale(1 1.05)" font-size="16" fill="#000" text-anchor="middle" font-weight="normal" >15</text>
<text transform="translate(802.4 2136.2) scale(1 1.05)" font-size="16" fill="#000" text-anchor="middle" font-weight="normal" >20</text>
<text transform="translate(849.6 2136.2) scale(1 1.05)" font-size="16" fill="#000" text-anchor="middle" font-weight="normal" >25</text>
<text transform="translate(896.8 2136.2) scale(1 1.05)" font-size="16" fill="#000" text-anchor="middle" font-weight="normal" >30</text>
<text transform="translate(944 2136.2) scale(1 1.05)" font-size="16" fill="#000" text-anchor="middle" font-weight="normal" >35</text>
<text transform="translate(755.8 2157.4) scale(1 1.05)" font-size="15.5" font-weight="bold" text-anchor="middle" xml:space="preserve">N<tspan dy="-5.5" dx="1" font-size="13.5">2</tspan><tspan dy="5.5"> (S</tspan><tspan dy="-5.5" font-size="13.5">-2</tspan><tspan dy="5.5">)    x 10</tspan><tspan dy="-5.5" font-size="13.5">-4</tspan></text>
<text transform="translate(501.3 1507.8) scale(1 1.04)" font-size="34" fill="#000" text-anchor="start" font-weight="bold" >F</text>
</svg></body></html>
